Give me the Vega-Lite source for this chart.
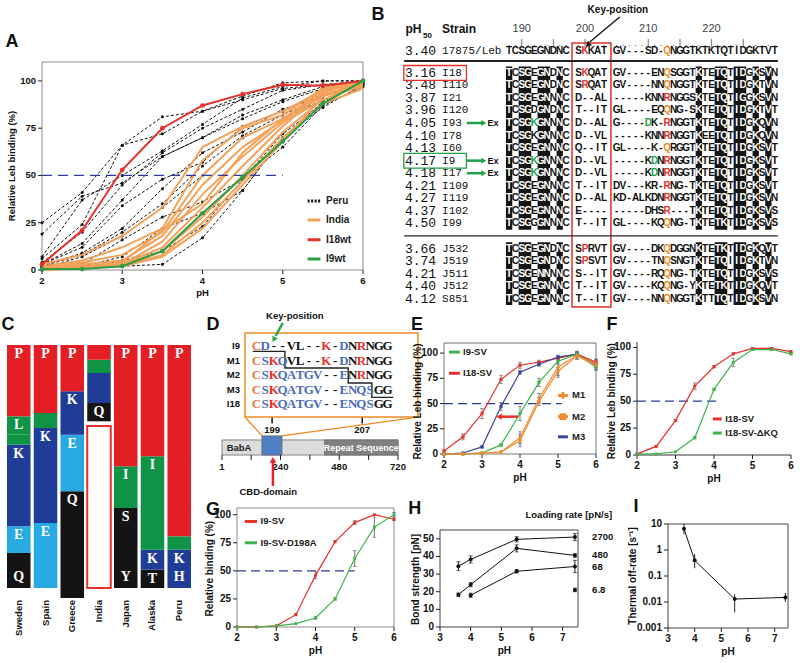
{
"$schema": "https://vega.github.io/schema/vega-lite/v6.json",
"width": 800, "height": 663, "autosize": "none", "padding": 0,
"config": {"view": {"stroke": null}, "font": "Liberation Sans"},
"datasets": {
 "a": [
{"s":"P1","x":2,"y":25},{"s":"P1","x":2.5,"y":41},{"s":"P1","x":3,"y":66},{"s":"P1","x":3.5,"y":81},{"s":"P1","x":4,"y":84},{"s":"P1","x":4.5,"y":92},{"s":"P1","x":5,"y":99},{"s":"P1","x":5.5,"y":100},{"s":"P1","x":6,"y":100},
{"s":"P2","x":2,"y":19},{"s":"P2","x":2.5,"y":39},{"s":"P2","x":3,"y":46},{"s":"P2","x":3.5,"y":60},{"s":"P2","x":4,"y":70},{"s":"P2","x":4.5,"y":82},{"s":"P2","x":5,"y":90},{"s":"P2","x":5.5,"y":97},{"s":"P2","x":6,"y":99},
{"s":"P3","x":2,"y":7},{"s":"P3","x":2.5,"y":37},{"s":"P3","x":3,"y":50},{"s":"P3","x":3.5,"y":63},{"s":"P3","x":4,"y":77},{"s":"P3","x":4.5,"y":91},{"s":"P3","x":5,"y":97},{"s":"P3","x":5.5,"y":100},{"s":"P3","x":6,"y":100},
{"s":"P4","x":2,"y":6},{"s":"P4","x":2.5,"y":24},{"s":"P4","x":3,"y":66},{"s":"P4","x":3.5,"y":72},{"s":"P4","x":4,"y":84},{"s":"P4","x":4.5,"y":90},{"s":"P4","x":5,"y":96},{"s":"P4","x":5.5,"y":98},{"s":"P4","x":6,"y":100},
{"s":"P5","x":2,"y":4},{"s":"P5","x":2.5,"y":20},{"s":"P5","x":3,"y":45},{"s":"P5","x":3.5,"y":62},{"s":"P5","x":4,"y":75},{"s":"P5","x":4.5,"y":85},{"s":"P5","x":5,"y":95},{"s":"P5","x":5.5,"y":98},{"s":"P5","x":6,"y":99},
{"s":"P6","x":2,"y":3},{"s":"P6","x":2.5,"y":14},{"s":"P6","x":3,"y":37},{"s":"P6","x":3.5,"y":60},{"s":"P6","x":4,"y":70},{"s":"P6","x":4.5,"y":80},{"s":"P6","x":5,"y":89},{"s":"P6","x":5.5,"y":96},{"s":"P6","x":6,"y":100},
{"s":"P7","x":2,"y":3},{"s":"P7","x":2.5,"y":12},{"s":"P7","x":3,"y":34},{"s":"P7","x":3.5,"y":48},{"s":"P7","x":4,"y":57},{"s":"P7","x":4.5,"y":76},{"s":"P7","x":5,"y":84},{"s":"P7","x":5.5,"y":93},{"s":"P7","x":6,"y":98},
{"s":"P8","x":2,"y":2},{"s":"P8","x":2.5,"y":9},{"s":"P8","x":3,"y":22},{"s":"P8","x":3.5,"y":43},{"s":"P8","x":4,"y":62},{"s":"P8","x":4.5,"y":73},{"s":"P8","x":5,"y":85},{"s":"P8","x":5.5,"y":92},{"s":"P8","x":6,"y":99},
{"s":"P9","x":2,"y":2},{"s":"P9","x":2.5,"y":8},{"s":"P9","x":3,"y":20},{"s":"P9","x":3.5,"y":35},{"s":"P9","x":4,"y":55},{"s":"P9","x":4.5,"y":71},{"s":"P9","x":5,"y":82},{"s":"P9","x":5.5,"y":92},{"s":"P9","x":6,"y":100},
{"s":"P10","x":2,"y":1},{"s":"P10","x":2.5,"y":7},{"s":"P10","x":3,"y":18},{"s":"P10","x":3.5,"y":33},{"s":"P10","x":4,"y":50},{"s":"P10","x":4.5,"y":70},{"s":"P10","x":5,"y":80},{"s":"P10","x":5.5,"y":90},{"s":"P10","x":6,"y":99},
{"s":"P11","x":2,"y":1},{"s":"P11","x":2.5,"y":3},{"s":"P11","x":3,"y":16},{"s":"P11","x":3.5,"y":28},{"s":"P11","x":4,"y":36},{"s":"P11","x":4.5,"y":48},{"s":"P11","x":5,"y":72},{"s":"P11","x":5.5,"y":88},{"s":"P11","x":6,"y":100},
{"s":"P12","x":2,"y":1},{"s":"P12","x":2.5,"y":2},{"s":"P12","x":3,"y":7},{"s":"P12","x":3.5,"y":22},{"s":"P12","x":4,"y":30},{"s":"P12","x":4.5,"y":42},{"s":"P12","x":5,"y":70},{"s":"P12","x":5.5,"y":86},{"s":"P12","x":6,"y":98},
{"s":"P13","x":2,"y":0},{"s":"P13","x":2.5,"y":1},{"s":"P13","x":3,"y":5},{"s":"P13","x":3.5,"y":10},{"s":"P13","x":4,"y":23},{"s":"P13","x":4.5,"y":48},{"s":"P13","x":5,"y":65},{"s":"P13","x":5.5,"y":87},{"s":"P13","x":6,"y":97},
{"s":"P14","x":2,"y":0},{"s":"P14","x":2.5,"y":1},{"s":"P14","x":3,"y":2},{"s":"P14","x":3.5,"y":3},{"s":"P14","x":4,"y":17},{"s":"P14","x":4.5,"y":42},{"s":"P14","x":5,"y":70},{"s":"P14","x":5.5,"y":89},{"s":"P14","x":6,"y":100},
{"s":"O1","x":2,"y":3},{"s":"O1","x":2.5,"y":8},{"s":"O1","x":3,"y":18},{"s":"O1","x":3.5,"y":33},{"s":"O1","x":4,"y":65},{"s":"O1","x":4.5,"y":76},{"s":"O1","x":5,"y":84},{"s":"O1","x":5.5,"y":95},{"s":"O1","x":6,"y":100},
{"s":"O2","x":2,"y":2},{"s":"O2","x":2.5,"y":5},{"s":"O2","x":3,"y":12},{"s":"O2","x":3.5,"y":22},{"s":"O2","x":4,"y":58},{"s":"O2","x":4.5,"y":75},{"s":"O2","x":5,"y":82},{"s":"O2","x":5.5,"y":96},{"s":"O2","x":6,"y":100},
{"s":"O3","x":2,"y":1},{"s":"O3","x":2.5,"y":4},{"s":"O3","x":3,"y":8},{"s":"O3","x":3.5,"y":20},{"s":"O3","x":4,"y":50},{"s":"O3","x":4.5,"y":70},{"s":"O3","x":5,"y":80},{"s":"O3","x":5.5,"y":93},{"s":"O3","x":6,"y":98},
{"s":"O4","x":2,"y":1},{"s":"O4","x":2.5,"y":3},{"s":"O4","x":3,"y":5},{"s":"O4","x":3.5,"y":18},{"s":"O4","x":4,"y":45},{"s":"O4","x":4.5,"y":65},{"s":"O4","x":5,"y":79},{"s":"O4","x":5.5,"y":92},{"s":"O4","x":6,"y":97},
{"s":"O5","x":2,"y":1},{"s":"O5","x":2.5,"y":2},{"s":"O5","x":3,"y":3},{"s":"O5","x":3.5,"y":15},{"s":"O5","x":4,"y":40},{"s":"O5","x":4.5,"y":60},{"s":"O5","x":5,"y":78},{"s":"O5","x":5.5,"y":90},{"s":"O5","x":6,"y":99},
{"s":"O6","x":2,"y":0},{"s":"O6","x":2.5,"y":2},{"s":"O6","x":3,"y":3},{"s":"O6","x":3.5,"y":12},{"s":"O6","x":4,"y":33},{"s":"O6","x":4.5,"y":55},{"s":"O6","x":5,"y":76},{"s":"O6","x":5.5,"y":94},{"s":"O6","x":6,"y":100},
{"s":"O7","x":2,"y":0},{"s":"O7","x":2.5,"y":1},{"s":"O7","x":3,"y":3},{"s":"O7","x":3.5,"y":10},{"s":"O7","x":4,"y":28},{"s":"O7","x":4.5,"y":50},{"s":"O7","x":5,"y":73},{"s":"O7","x":5.5,"y":90},{"s":"O7","x":6,"y":98},
{"s":"O8","x":2,"y":0},{"s":"O8","x":2.5,"y":1},{"s":"O8","x":3,"y":2},{"s":"O8","x":3.5,"y":8},{"s":"O8","x":4,"y":25},{"s":"O8","x":4.5,"y":47},{"s":"O8","x":5,"y":70},{"s":"O8","x":5.5,"y":88},{"s":"O8","x":6,"y":96},
{"s":"O9","x":2,"y":0},{"s":"O9","x":2.5,"y":1},{"s":"O9","x":3,"y":2},{"s":"O9","x":3.5,"y":7},{"s":"O9","x":4,"y":22},{"s":"O9","x":4.5,"y":45},{"s":"O9","x":5,"y":68},{"s":"O9","x":5.5,"y":92},{"s":"O9","x":6,"y":100},
{"s":"O10","x":2,"y":1},{"s":"O10","x":2.5,"y":2},{"s":"O10","x":3,"y":4},{"s":"O10","x":3.5,"y":21},{"s":"O10","x":4,"y":35},{"s":"O10","x":4.5,"y":62},{"s":"O10","x":5,"y":80},{"s":"O10","x":5.5,"y":95},{"s":"O10","x":6,"y":99},
{"s":"I18","x":2,"y":3},{"s":"I18","x":2.5,"y":21},{"s":"I18","x":3,"y":53},{"s":"I18","x":3.5,"y":75},{"s":"I18","x":4,"y":87},{"s":"I18","x":4.5,"y":93},{"s":"I18","x":5,"y":98},{"s":"I18","x":5.5,"y":97.5},{"s":"I18","x":6,"y":100},
{"s":"I9","x":2,"y":0.5},{"s":"I9","x":2.5,"y":0.5},{"s":"I9","x":3,"y":2},{"s":"I9","x":3.5,"y":10},{"s":"I9","x":4,"y":30},{"s":"I9","x":4.5,"y":49},{"s":"I9","x":5,"y":68},{"s":"I9","x":5.5,"y":88},{"s":"I9","x":6,"y":100}
 ],
 "e": [
{"s":"I18-SV","x":2,"y":3,"e":0},{"s":"I18-SV","x":2.5,"y":17,"e":3},{"s":"I18-SV","x":3,"y":40,"e":5},{"s":"I18-SV","x":3.5,"y":74,"e":4},{"s":"I18-SV","x":4,"y":88,"e":3},{"s":"I18-SV","x":4.5,"y":91,"e":2},{"s":"I18-SV","x":5,"y":95,"e":2},{"s":"I18-SV","x":5.5,"y":99,"e":2},{"s":"I18-SV","x":6,"y":91,"e":3},
{"s":"M3","x":2,"y":0,"e":0},{"s":"M3","x":2.5,"y":1,"e":0},{"s":"M3","x":3,"y":7,"e":1},{"s":"M3","x":3.5,"y":47,"e":4},{"s":"M3","x":4,"y":81,"e":2},{"s":"M3","x":4.5,"y":89,"e":2},{"s":"M3","x":5,"y":96,"e":2},{"s":"M3","x":5.5,"y":99,"e":2},{"s":"M3","x":6,"y":89,"e":3},
{"s":"I9-SV","x":2,"y":0,"e":0},{"s":"I9-SV","x":2.5,"y":0,"e":0},{"s":"I9-SV","x":3,"y":1,"e":0},{"s":"I9-SV","x":3.5,"y":9,"e":1},{"s":"I9-SV","x":4,"y":40,"e":7},{"s":"I9-SV","x":4.5,"y":71,"e":4},{"s":"I9-SV","x":5,"y":92,"e":3},{"s":"I9-SV","x":5.5,"y":99,"e":2},{"s":"I9-SV","x":6,"y":86,"e":3},
{"s":"M1","x":2,"y":0,"e":0},{"s":"M1","x":2.5,"y":0,"e":0},{"s":"M1","x":3,"y":1,"e":0},{"s":"M1","x":3.5,"y":2,"e":0},{"s":"M1","x":4,"y":16,"e":6},{"s":"M1","x":4.5,"y":55,"e":5},{"s":"M1","x":5,"y":86,"e":10},{"s":"M1","x":5.5,"y":98,"e":4},{"s":"M1","x":6,"y":90,"e":4},
{"s":"M2","x":2,"y":0,"e":0},{"s":"M2","x":2.5,"y":0,"e":0},{"s":"M2","x":3,"y":1,"e":0},{"s":"M2","x":3.5,"y":2,"e":0},{"s":"M2","x":4,"y":13,"e":6},{"s":"M2","x":4.5,"y":52,"e":4},{"s":"M2","x":5,"y":82,"e":4},{"s":"M2","x":5.5,"y":97,"e":3},{"s":"M2","x":6,"y":88,"e":4}
 ],
 "f": [
{"s":"I18-SV","x":2,"y":1,"e":0},{"s":"I18-SV","x":2.5,"y":8,"e":1},{"s":"I18-SV","x":3,"y":32,"e":1},{"s":"I18-SV","x":3.5,"y":64,"e":3},{"s":"I18-SV","x":4,"y":82,"e":1},{"s":"I18-SV","x":4.5,"y":94,"e":1},{"s":"I18-SV","x":5,"y":99,"e":1},{"s":"I18-SV","x":5.5,"y":99,"e":1},{"s":"I18-SV","x":6,"y":96,"e":1},
{"s":"I18-SV-ΔKQ","x":2,"y":1,"e":0},{"s":"I18-SV-ΔKQ","x":2.5,"y":1,"e":0},{"s":"I18-SV-ΔKQ","x":3,"y":3,"e":0},{"s":"I18-SV-ΔKQ","x":3.5,"y":16,"e":1},{"s":"I18-SV-ΔKQ","x":4,"y":61,"e":1},{"s":"I18-SV-ΔKQ","x":4.5,"y":86,"e":4},{"s":"I18-SV-ΔKQ","x":5,"y":98,"e":1},{"s":"I18-SV-ΔKQ","x":5.5,"y":98,"e":1},{"s":"I18-SV-ΔKQ","x":6,"y":94,"e":1}
 ],
 "g": [
{"s":"I9-SV","x":2,"y":0,"e":0},{"s":"I9-SV","x":2.5,"y":0,"e":0},{"s":"I9-SV","x":3,"y":1,"e":0},{"s":"I9-SV","x":3.5,"y":11,"e":1},{"s":"I9-SV","x":4,"y":46,"e":3},{"s":"I9-SV","x":4.5,"y":76,"e":1},{"s":"I9-SV","x":5,"y":93,"e":2},{"s":"I9-SV","x":5.5,"y":100,"e":0},{"s":"I9-SV","x":6,"y":96,"e":1},
{"s":"I9-SV-D198A","x":2,"y":0,"e":0},{"s":"I9-SV-D198A","x":2.5,"y":0,"e":0},{"s":"I9-SV-D198A","x":3,"y":1,"e":0},{"s":"I9-SV-D198A","x":3.5,"y":3,"e":0},{"s":"I9-SV-D198A","x":4,"y":8,"e":1},{"s":"I9-SV-D198A","x":4.5,"y":25,"e":1},{"s":"I9-SV-D198A","x":5,"y":61,"e":7},{"s":"I9-SV-D198A","x":5.5,"y":89,"e":9},{"s":"I9-SV-D198A","x":6,"y":100,"e":2}
 ],
 "h": [
{"s":"2700","x":3.6,"y":34.5,"e":2.5},{"s":"2700","x":4,"y":38.3,"e":2},{"s":"2700","x":5.5,"y":49.7,"e":1.5},{"s":"2700","x":7.4,"y":51,"e":2},
{"s":"480","x":3.6,"y":18.3,"e":1},{"s":"480","x":4,"y":24,"e":1.2},{"s":"480","x":5.5,"y":44.6,"e":2},{"s":"480","x":7.4,"y":40.6,"e":1},
{"s":"68","x":4,"y":18,"e":1.2},{"s":"68","x":5.5,"y":31.6,"e":1},{"s":"68","x":7.4,"y":34.3,"e":3.5},
{"s":"6.8","x":7.4,"y":21,"e":1}
 ],
 "i": [
{"x":3.6,"y":6.5,"lo":4,"hi":10},{"x":4,"y":0.4,"lo":0.2,"hi":0.7},{"x":5.5,"y":0.013,"lo":0.004,"hi":0.02},{"x":7.4,"y":0.015,"lo":0.01,"hi":0.022}
 ],
 "seq": [
{"r":0.3,"ph":"3.40","st":"17875/Leb","c":["T","C","S","G","E","G","N","D","N","C"," ","S"," ","K","A","T"," ","G","V","-","-","-","S","D","-"," ","N","G","G","T","K","T","K","T","Q","T","I","D","G","K","T","V","T"]},
{"r":2,"ph":"3.16","st":"I18","c":["T","C","S","G","E","G","N","D","N","C"," ","S"," ","Q","A","T"," ","G","V","-","-","-","-","E","N"," ","S","G","G","T","K","T","E","T","Q","T","I","D","G","K","S","V","N"]},
{"r":3,"ph":"3.48","st":"I110","c":["T","C","S","G","E","G","N","D","N","C"," ","S"," ","Q","A","T"," ","G","V","-","-","-","-","N","N"," ","N","G","G","T","K","T","E","T","Q","T","I","D","G","K","T","V","N"]},
{"r":4,"ph":"3.87","st":"I21","c":["T","C","S","G","E","G","N","N","N","C"," ","D","-","-","A","L"," ","-","-","-","-","-","K","N","N"," ","N","G","G","S","K","T","E","T","Q","T","I","G","G","K","S","V","N"]},
{"r":5,"ph":"3.96","st":"I120","c":["T","C","S","G","D","G","N","D","N","C"," ","T","-","-","I","T"," ","G","L","-","-","-","-","E","Q"," ","N","G","-","S","K","T","E","T","Q","T","I","D","G","K","T","V","T"]},
{"r":6,"ph":"4.05","st":"I93","c":["T","C","S","G"," ","G","N","N","N","C"," ","D","-","-","A","L"," ","G","-","-","-","-"," ","K","-"," ","N","G","G","T","K","T","E","T","Q","T","I","D","G","K","Q","V","N"]},
{"r":7,"ph":"4.10","st":"I78","c":["T","C","S","G","K","G","N","N","N","C"," ","D","-","-","V","L"," ","-","-","-","-","-","K","N","N"," ","N","G","G","T","K","E","E","T","Q","T","I","D","G","K","Q","V","N"]},
{"r":8,"ph":"4.13","st":"I60","c":["T","C","S","G","E","G","N","N","N","C"," ","Q","-","-","I","T"," ","G","L","-","-","-","-","K","-"," ","R","G","G","T","K","T","E","T","Q","T","I","D","G","K","S","V","T"]},
{"r":9,"ph":"4.17","st":"I9","c":["T","C","S","G"," ","G","N","N","N","C"," ","D","-","-","V","L"," ","-","-","-","-","-","K"," ","N"," ","N","G","G","T","K","T","E","T","Q","T","I","D","G","K","S","V","T"]},
{"r":10,"ph":"4.18","st":"I17","c":["T","C","S","G"," ","G","N","N","N","C"," ","D","-","-","V","L"," ","-","-","-","-","-","K"," ","N"," ","N","G","G","T","K","T","E","T","Q","T","I","D","G","K","S","V","T"]},
{"r":11,"ph":"4.21","st":"I109","c":["T","C","S","G","E","G","N","N","N","C"," ","T","-","-","I","T"," ","D","V","-","-","-","K","R","-"," ","N","G","-","T","K","T","E","T","Q","T","I","D","G","K","S","V","T"]},
{"r":12,"ph":"4.27","st":"I119","c":["T","C","S","G","E","G","N","N","N","C"," ","D","-","-","A","L"," ","K","D","-","A","L","K","D","N"," ","N","G","G","T","K","T","E","T","Q","T","I","D","G","K","S","V","N"]},
{"r":13,"ph":"4.37","st":"I102","c":["T","C","S","G","E","G","N","N","N","C"," ","E","-","-","-","-"," ","-","-","-","-","-","D","H","S"," ","-","-","-","T","K","T","E","T","Q","T","I","D","G","K","S","V","S"]},
{"r":14,"ph":"4.50","st":"I99","c":["T","C","S","G","G","G","N","N","N","C"," ","T","-","-","I","T"," ","G","L","-","-","-","-","K","Q"," ","N","G","-","T","K","T","E","T","K","T","I","D","G","K","S","V","S"]},
{"r":16,"ph":"3.66","st":"J532","c":["T","C","S","G","E","G","N","D","N","C"," ","S"," ","R","V","T"," ","G","V","-","-","-","-","D","K"," ","D","G","G","N","K","T","E","T","K","T","I","D","G","K","Q","V","T"]},
{"r":17,"ph":"3.74","st":"J519","c":["T","C","S","G","E","G","N","D","N","C"," ","S"," ","S","V","T"," ","G","V","-","-","-","-","T","N"," ","S","N","G","T","K","T","E","T","Q","I","I","D","G","K","T","V","N"]},
{"r":18,"ph":"4.21","st":"J511","c":["T","C","S","G","E","N","N","N","N","C"," ","S","-","-","I","T"," ","G","V","-","-","-","-","R","Q"," ","N","G","-","T","K","T","E","T","Q","T","I","D","G","K","S","V","S"]},
{"r":19,"ph":"4.40","st":"J512","c":["T","C","S","G","E","G","N","N","N","C"," ","T","-","-","I","T"," ","G","V","-","-","-","-","K","Q"," ","N","G","-","Y","K","T","E","T","K","T","I","D","G","K","Q","V","T"]},
{"r":20,"ph":"4.12","st":"S851","c":["T","C","S","G","E","G","N","N","N","C"," ","T","-","-","I","T"," ","G","V","-","-","-","-","N","N"," ","N","G","G","T","K","T","T","T","Q","T","I","D","G","K","S","V","N"]}
 ],
 "hl": [
{"r":0.3,"col":13,"ch":"K","k":"red"},{"r":0.3,"col":26,"ch":"Q","k":"orange"},
{"r":2,"col":13,"ch":"K","k":"red"},{"r":2,"col":26,"ch":"Q","k":"orange"},
{"r":3,"col":13,"ch":"R","k":"red"},{"r":3,"col":26,"ch":"Q","k":"orange"},
{"r":4,"col":26,"ch":"R","k":"red"},
{"r":5,"col":26,"ch":"Q","k":"orange"},
{"r":6,"col":5,"ch":"K","k":"green"},{"r":6,"col":23,"ch":"D","k":"green"},{"r":6,"col":26,"ch":"R","k":"red"},
{"r":7,"col":26,"ch":"R","k":"red"},
{"r":8,"col":26,"ch":"Q","k":"orange"},
{"r":9,"col":5,"ch":"K","k":"green"},{"r":9,"col":24,"ch":"D","k":"green"},{"r":9,"col":26,"ch":"R","k":"red"},
{"r":10,"col":5,"ch":"K","k":"green"},{"r":10,"col":24,"ch":"D","k":"green"},{"r":10,"col":26,"ch":"R","k":"red"},
{"r":11,"col":26,"ch":"R","k":"red"},
{"r":12,"col":26,"ch":"R","k":"red"},
{"r":13,"col":26,"ch":"R","k":"red"},
{"r":14,"col":26,"ch":"Q","k":"orange"},
{"r":16,"col":13,"ch":"P","k":"red"},{"r":16,"col":26,"ch":"Q","k":"orange"},
{"r":17,"col":13,"ch":"P","k":"red"},{"r":17,"col":26,"ch":"Q","k":"orange"},
{"r":18,"col":26,"ch":"Q","k":"orange"},
{"r":19,"col":26,"ch":"Q","k":"orange"},
{"r":20,"col":26,"ch":"Q","k":"orange"}
 ],
 "shade": [
{"c0":0.5,"c1":1.5},{"c0":2.5,"c1":4.5},{"c0":5.5,"c1":7.5},{"c0":8.5,"c1":9.5},{"c0":30.5,"c1":31.5},{"c0":33.5,"c1":35.5},{"c0":36.5,"c1":38.5},{"c0":39.5,"c1":40.5},{"c0":41.5,"c1":42.5}
 ],
 "shadecols": [
{"col":1},{"col":3},{"col":4},{"col":6},{"col":7},{"col":9},{"col":31},{"col":34},{"col":35},{"col":37},{"col":38},{"col":40},{"col":42}
 ],
 "logo": [
{"ct":"Sweden","aa":"Q","lo":0,"hi":20},{"ct":"Sweden","aa":"T","lo":20,"hi":35},{"ct":"Sweden","aa":"E","lo":35,"hi":61.7},{"ct":"Sweden","aa":"K","lo":61.7,"hi":143.3},{"ct":"Sweden","aa":"A","lo":143.3,"hi":153.3},{"ct":"Sweden","aa":"L","lo":153.3,"hi":171.7},{"ct":"Sweden","aa":"P","lo":171.7,"hi":243},
{"ct":"Spain","aa":"E","lo":0,"hi":65},{"ct":"Spain","aa":"K","lo":65,"hi":160},{"ct":"Spain","aa":"L","lo":160,"hi":175},{"ct":"Spain","aa":"P","lo":175,"hi":243},
{"ct":"Greece","aa":"Q","lo":-10,"hi":96.7},{"ct":"Greece","aa":"E","lo":96.7,"hi":153.3},{"ct":"Greece","aa":"K","lo":153.3,"hi":196.7},{"ct":"Greece","aa":"P","lo":196.7,"hi":243},
{"ct":"India","aa":"Q","lo":166.7,"hi":185},{"ct":"India","aa":"R","lo":185,"hi":200},{"ct":"India","aa":"K","lo":200,"hi":215},{"ct":"India","aa":"V","lo":215,"hi":228.3},{"ct":"India","aa":"P","lo":228.3,"hi":243},
{"ct":"Japan","aa":"Y","lo":0,"hi":20},{"ct":"Japan","aa":"S","lo":20,"hi":80},{"ct":"Japan","aa":"I","lo":80,"hi":121.7},{"ct":"Japan","aa":"P","lo":121.7,"hi":243},
{"ct":"Alaska","aa":"T","lo":0,"hi":18.3},{"ct":"Alaska","aa":"K","lo":18.3,"hi":38.3},{"ct":"Alaska","aa":"I","lo":38.3,"hi":131.7},{"ct":"Alaska","aa":"P","lo":131.7,"hi":243},
{"ct":"Peru","aa":"H","lo":0,"hi":20},{"ct":"Peru","aa":"K","lo":20,"hi":38.3},{"ct":"Peru","aa":"L","lo":38.3,"hi":51.7},{"ct":"Peru","aa":"P","lo":51.7,"hi":243}
 ],
 "dal": [
{"r":1,"lab":"I9","c":["C","D","-","-","V","L","-","-","K","-","D","N","R","N","G","G"],"k":["o","b","k","k","k","k","k","k","r","k","b","k","r","k","k","k"]},
{"r":2,"lab":"M1","c":["C","S","K","Q","V","L","-","-","K","-","D","N","R","N","G","G"],"k":["o","b","r","b","k","k","k","k","r","k","b","k","r","k","k","k"]},
{"r":3,"lab":"M2","c":["C","S","K","Q","A","T","G","V","-","-","E","N","R","N","G","G"],"k":["o","b","r","b","b","b","b","b","k","k","b","k","r","k","k","k"]},
{"r":4,"lab":"M3","c":["C","S","K","Q","A","T","G","V","-","-","E","N","Q","S","G","G"],"k":["o","b","r","b","b","b","b","b","k","k","b","b","b","b","k","k"]},
{"r":5,"lab":"I18","c":["C","S","K","Q","A","T","G","V","-","-","E","N","Q","S","G","G"],"k":["o","b","r","b","b","b","b","b","k","k","b","b","b","b","k","k"]}
 ],
 "dbar": [
{"s":"body","a":1,"b":720,"y0":7.48,"y1":8.52},{"s":"rep","a":420,"b":720,"y0":7.48,"y1":8.52},{"s":"cbd","a":164,"b":246,"y0":7.2,"y1":8.52}
 ],
 "ticks26": [{"v":2,"t":"2"},{"v":3,"t":"3"},{"v":4,"t":"4"},{"v":5,"t":"5"},{"v":6,"t":"6"}],
 "ticks37": [{"v":3,"t":"3"},{"v":4,"t":"4"},{"v":5,"t":"5"},{"v":6,"t":"6"},{"v":7,"t":"7"}],
 "ticks100": [{"v":0,"t":"0"},{"v":25,"t":"25"},{"v":50,"t":"50"},{"v":75,"t":"75"},{"v":100,"t":"100"}],
 "ticks50": [{"v":0,"t":"0"},{"v":10,"t":"10"},{"v":20,"t":"20"},{"v":30,"t":"30"},{"v":40,"t":"40"},{"v":50,"t":"50"}],
 "tickslog": [{"v":0.001,"t":"0.001"},{"v":0.01,"t":"0.01"},{"v":0.1,"t":"0.1"},{"v":1,"t":"1"},{"v":10,"t":"10"}]
},
"resolve": {
 "scale": {"x": "independent", "y": "independent", "color": "independent", "shape": "independent", "strokeDash": "independent", "size": "independent"},
 "axis": {"x": "independent", "y": "independent"},
 "legend": {"color": "independent", "shape": "independent", "strokeDash": "independent", "size": "independent"}
},
"layer": [
 {
  "layer": [
   {"data": {"values": [{}]}, "mark": {"type": "rect", "filled": false, "color": "#8c8c8c", "strokeWidth": 1}, "encoding": {"x": {"datum": 2, "scale": {"domain": [2, 6], "range": [42, 363], "nice": false, "zero": false}, "axis": null}, "x2": {"datum": 6}, "y": {"datum": 0, "scale": {"domain": [0, 110], "range": [270, 62], "nice": false, "zero": false}, "axis": null}, "y2": {"datum": 110}}},
   {"data": {"name": "ticks26"}, "mark": {"type": "rule", "color": "#222"}, "encoding": {"x": {"field": "v", "type": "quantitative", "scale": {"domain": [2, 6], "range": [42, 363], "nice": false, "zero": false}, "axis": null}, "y": {"datum": 0, "scale": {"domain": [0, 110], "range": [270, 62], "nice": false, "zero": false}, "axis": null}, "y2": {"datum": -2.1}}},
   {"data": {"name": "ticks26"}, "mark": {"type": "text", "baseline": "top", "dy": 6, "fontSize": 9.5, "fontWeight": "bold", "color": "#111"}, "encoding": {"x": {"field": "v", "type": "quantitative", "scale": {"domain": [2, 6], "range": [42, 363], "nice": false, "zero": false}, "axis": null}, "y": {"datum": 0, "scale": {"domain": [0, 110], "range": [270, 62], "nice": false, "zero": false}, "axis": null}, "text": {"field": "t"}}},
   {"data": {"name": "ticks100"}, "mark": {"type": "rule", "color": "#222"}, "encoding": {"y": {"field": "v", "type": "quantitative", "scale": {"domain": [0, 110], "range": [270, 62], "nice": false, "zero": false}, "axis": null}, "x": {"datum": 2, "scale": {"domain": [2, 6], "range": [42, 363], "nice": false, "zero": false}, "axis": null}, "x2": {"datum": 1.95}}},
   {"data": {"name": "ticks100"}, "mark": {"type": "text", "align": "right", "dx": -6, "fontSize": 9.5, "fontWeight": "bold", "color": "#111"}, "encoding": {"y": {"field": "v", "type": "quantitative", "scale": {"domain": [0, 110], "range": [270, 62], "nice": false, "zero": false}, "axis": null}, "x": {"datum": 2, "scale": {"domain": [2, 6], "range": [42, 363], "nice": false, "zero": false}, "axis": null}, "text": {"field": "t"}}},
   {"data": {"values": [{"t": "pH"}]}, "mark": {"type": "text", "baseline": "top", "dy": 18, "fontSize": 9.5, "fontWeight": "bold", "color": "#111"}, "encoding": {"x": {"datum": 4, "scale": {"domain": [2, 6], "range": [42, 363], "nice": false, "zero": false}, "axis": null}, "y": {"datum": 0, "scale": {"domain": [0, 110], "range": [270, 62], "nice": false, "zero": false}, "axis": null}, "text": {"field": "t"}}},
   {"data": {"values": [{"t": "Relative Leb binding (%)"}]}, "mark": {"type": "text", "angle": 270, "fontSize": 9.5, "fontWeight": "bold", "color": "#111"}, "encoding": {"x": {"datum": 1.626, "scale": {"domain": [2, 6], "range": [42, 363], "nice": false, "zero": false}, "axis": null}, "y": {"datum": 55, "scale": {"domain": [0, 110], "range": [270, 62], "nice": false, "zero": false}, "axis": null}, "text": {"field": "t"}}},
   {"data": {"name": "a"}, "transform": [{"filter": "indexof(datum.s,'P')==0"}], "mark": {"type": "line", "color": "#111", "strokeWidth": 1, "strokeDash": [3, 2]}, "encoding": {"x": {"field": "x", "type": "quantitative", "scale": {"domain": [2, 6], "range": [42, 363], "nice": false, "zero": false}, "axis": null}, "y": {"field": "y", "type": "quantitative", "scale": {"domain": [0, 110], "range": [270, 62], "nice": false, "zero": false}, "axis": null}, "detail": {"field": "s"}}},
   {"data": {"name": "a"}, "transform": [{"filter": "indexof(datum.s,'P')==0"}], "mark": {"type": "circle", "color": "#111", "size": 9, "opacity": 1}, "encoding": {"x": {"field": "x", "type": "quantitative", "scale": {"domain": [2, 6], "range": [42, 363], "nice": false, "zero": false}, "axis": null}, "y": {"field": "y", "type": "quantitative", "scale": {"domain": [0, 110], "range": [270, 62], "nice": false, "zero": false}, "axis": null}}},
   {"data": {"name": "a"}, "transform": [{"filter": "indexof(datum.s,'O')==0"}], "mark": {"type": "line", "color": "#f4a25a", "strokeWidth": 2}, "encoding": {"x": {"field": "x", "type": "quantitative", "scale": {"domain": [2, 6], "range": [42, 363], "nice": false, "zero": false}, "axis": null}, "y": {"field": "y", "type": "quantitative", "scale": {"domain": [0, 110], "range": [270, 62], "nice": false, "zero": false}, "axis": null}, "detail": {"field": "s"}}},
   {"data": {"values": [{}]}, "mark": {"type": "rule", "color": "#2b3a9c", "strokeWidth": 1.3, "strokeDash": [10, 6]}, "encoding": {"x": {"datum": 2, "scale": {"domain": [2, 6], "range": [42, 363], "nice": false, "zero": false}, "axis": null}, "x2": {"datum": 5}, "y": {"datum": 50, "scale": {"domain": [0, 110], "range": [270, 62], "nice": false, "zero": false}, "axis": null}}},
   {"data": {"name": "a"}, "transform": [{"filter": "datum.s=='I18'"}], "mark": {"type": "line", "color": "#e8302a", "strokeWidth": 2, "point": {"filled": true, "size": 22, "color": "#e8302a"}}, "encoding": {"x": {"field": "x", "type": "quantitative", "scale": {"domain": [2, 6], "range": [42, 363], "nice": false, "zero": false}, "axis": null}, "y": {"field": "y", "type": "quantitative", "scale": {"domain": [0, 110], "range": [270, 62], "nice": false, "zero": false}, "axis": null}}},
   {"data": {"name": "a"}, "transform": [{"filter": "datum.s=='I9'"}], "mark": {"type": "line", "color": "#2e9e45", "strokeWidth": 2, "point": {"filled": true, "size": 22, "color": "#2e9e45"}}, "encoding": {"x": {"field": "x", "type": "quantitative", "scale": {"domain": [2, 6], "range": [42, 363], "nice": false, "zero": false}, "axis": null}, "y": {"field": "y", "type": "quantitative", "scale": {"domain": [0, 110], "range": [270, 62], "nice": false, "zero": false}, "axis": null}}},
   {"data": {"values": [{"g": "Peru", "y": 36.5}, {"g": "India", "y": 26.5}, {"g": "I18wt", "y": 16}, {"g": "I9wt", "y": 5.8}]}, "mark": {"type": "rule", "strokeWidth": 3}, "encoding": {"x": {"datum": 5.31, "scale": {"domain": [2, 6], "range": [42, 363], "nice": false, "zero": false}, "axis": null}, "x2": {"datum": 5.47}, "y": {"field": "y", "type": "quantitative", "scale": {"domain": [0, 110], "range": [270, 62], "nice": false, "zero": false}, "axis": null}, "color": {"field": "g", "type": "nominal", "scale": {"domain": ["Peru", "India", "I18wt", "I9wt"], "range": ["#111", "#f4a25a", "#e8302a", "#2e9e45"]}, "legend": null}, "strokeDash": {"field": "g", "type": "nominal", "scale": {"domain": ["Peru", "India", "I18wt", "I9wt"], "range": [[2, 1.5], [1, 0], [1, 0], [1, 0]]}, "legend": null}}},
   {"data": {"values": [{"g": "Peru", "y": 36.5}, {"g": "India", "y": 26.5}, {"g": "I18wt", "y": 16}, {"g": "I9wt", "y": 5.8}]}, "mark": {"type": "text", "align": "left", "fontSize": 10, "fontWeight": "bold", "color": "#222"}, "encoding": {"x": {"datum": 5.54, "scale": {"domain": [2, 6], "range": [42, 363], "nice": false, "zero": false}, "axis": null}, "y": {"field": "y", "type": "quantitative", "scale": {"domain": [0, 110], "range": [270, 62], "nice": false, "zero": false}, "axis": null}, "text": {"field": "g"}}},
   {"data": {"values": [{"t": "A", "x": 1.626, "y": 120.6}, {"t": "C", "x": 1.576, "y": -29}]}, "mark": {"type": "text", "fontSize": 18, "fontWeight": "bold", "color": "#111"}, "encoding": {"x": {"field": "x", "type": "quantitative", "scale": {"domain": [2, 6], "range": [42, 363], "nice": false, "zero": false}, "axis": null}, "y": {"field": "y", "type": "quantitative", "scale": {"domain": [0, 110], "range": [270, 62], "nice": false, "zero": false}, "axis": null}, "text": {"field": "t"}}}
  ]
 },
 {
  "layer": [
   {"data": {"name": "shade"}, "mark": {"type": "rect", "color": "#161616"}, "encoding": {"x": {"field": "c0", "type": "quantitative", "scale": {"domain": [-21, 47], "range": [370, 800], "nice": false, "zero": false}, "axis": null}, "x2": {"field": "c1"}, "y": {"datum": 1.5, "scale": {"domain": [-3.8, 20.9], "range": [0, 310], "nice": false, "zero": false}, "axis": null}, "y2": {"datum": 14.5}}},
   {"data": {"name": "shade"}, "mark": {"type": "rect", "color": "#161616"}, "encoding": {"x": {"field": "c0", "type": "quantitative", "scale": {"domain": [-21, 47], "range": [370, 800], "nice": false, "zero": false}, "axis": null}, "x2": {"field": "c1"}, "y": {"datum": 15.5, "scale": {"domain": [-3.8, 20.9], "range": [0, 310], "nice": false, "zero": false}, "axis": null}, "y2": {"datum": 20.5}}},
   {"data": {"values": [{}]}, "mark": {"type": "rect", "filled": false, "color": "#e0302a", "strokeWidth": 1.5}, "encoding": {"x": {"datum": 10.95, "scale": {"domain": [-21, 47], "range": [370, 800], "nice": false, "zero": false}, "axis": null}, "x2": {"datum": 17.1}, "y": {"datum": -0.37, "scale": {"domain": [-3.8, 20.9], "range": [0, 310], "nice": false, "zero": false}, "axis": null}, "y2": {"datum": 20.66}}},
   {"data": {"values": [{}]}, "mark": {"type": "rule", "color": "#222", "strokeWidth": 2}, "encoding": {"x": {"datum": -15.6, "scale": {"domain": [-21, 47], "range": [370, 800], "nice": false, "zero": false}, "axis": null}, "x2": {"datum": 43.5}, "y": {"datum": 1.06, "scale": {"domain": [-3.8, 20.9], "range": [0, 310], "nice": false, "zero": false}, "axis": null}}},
   {"data": {"values": [{}]}, "mark": {"type": "rule", "color": "#222", "strokeWidth": 1.2}, "encoding": {"x": {"datum": -15.6, "scale": {"domain": [-21, 47], "range": [370, 800], "nice": false, "zero": false}, "axis": null}, "x2": {"datum": 43.5}, "y": {"datum": 15, "scale": {"domain": [-3.8, 20.9], "range": [0, 310], "nice": false, "zero": false}, "axis": null}}},
   {"data": {"name": "seq"}, "transform": [{"flatten": ["c"], "as": ["ch"]}, {"window": [{"op": "row_number", "as": "col"}], "groupby": ["r"]}, {"lookup": "col", "from": {"data": {"name": "shadecols"}, "key": "col"}, "as": "sh"}],
    "mark": {"type": "text", "fontSize": 10, "fontWeight": "bold", "font": "Liberation Sans Narrow, Liberation Sans, sans-serif"},
    "encoding": {"x": {"field": "col", "type": "quantitative", "scale": {"domain": [-21, 47], "range": [370, 800], "nice": false, "zero": false}, "axis": null}, "y": {"field": "r", "type": "quantitative", "scale": {"domain": [-3.8, 20.9], "range": [0, 310], "nice": false, "zero": false}, "axis": null}, "text": {"field": "ch"}, "color": {"condition": {"test": "datum.sh != null && datum.r > 1", "value": "#ffffff"}, "value": "#111111"}}},
   {"data": {"name": "hl"}, "mark": {"type": "text", "fontSize": 10, "fontWeight": "bold", "font": "Liberation Sans Narrow, Liberation Sans, sans-serif"}, "encoding": {"x": {"field": "col", "type": "quantitative", "scale": {"domain": [-21, 47], "range": [370, 800], "nice": false, "zero": false}, "axis": null}, "y": {"field": "r", "type": "quantitative", "scale": {"domain": [-3.8, 20.9], "range": [0, 310], "nice": false, "zero": false}, "axis": null}, "text": {"field": "ch"}, "color": {"field": "k", "type": "nominal", "scale": {"domain": ["red", "orange", "green"], "range": ["#e8302a", "#f08a24", "#22a04a"]}, "legend": null}}},
   {"data": {"name": "seq"}, "mark": {"type": "text", "align": "left", "fontSize": 13, "font": "Liberation Mono", "color": "#111"}, "encoding": {"x": {"datum": -15.47, "scale": {"domain": [-21, 47], "range": [370, 800], "nice": false, "zero": false}, "axis": null}, "y": {"field": "r", "type": "quantitative", "scale": {"domain": [-3.8, 20.9], "range": [0, 310], "nice": false, "zero": false}, "axis": null}, "text": {"field": "ph"}}},
   {"data": {"name": "seq"}, "mark": {"type": "text", "align": "left", "fontSize": 11, "font": "Liberation Mono", "color": "#111"}, "encoding": {"x": {"datum": -9.61, "scale": {"domain": [-21, 47], "range": [370, 800], "nice": false, "zero": false}, "axis": null}, "y": {"field": "r", "type": "quantitative", "scale": {"domain": [-3.8, 20.9], "range": [0, 310], "nice": false, "zero": false}, "axis": null}, "text": {"field": "st"}}},
   {"data": {"values": [{"t": "pH", "col": -15.4, "r": -1.45}, {"t": "Strain", "col": -9.61, "r": -1.45}]}, "mark": {"type": "text", "align": "left", "fontSize": 12, "fontWeight": "bold", "color": "#111"}, "encoding": {"x": {"field": "col", "type": "quantitative", "scale": {"domain": [-21, 47], "range": [370, 800], "nice": false, "zero": false}, "axis": null}, "y": {"field": "r", "type": "quantitative", "scale": {"domain": [-3.8, 20.9], "range": [0, 310], "nice": false, "zero": false}, "axis": null}, "text": {"field": "t"}}},
   {"data": {"values": [{"t": "50", "col": -12.6, "r": -0.95}]}, "mark": {"type": "text", "align": "left", "fontSize": 8, "fontWeight": "bold", "color": "#111"}, "encoding": {"x": {"field": "col", "type": "quantitative", "scale": {"domain": [-21, 47], "range": [370, 800], "nice": false, "zero": false}, "axis": null}, "y": {"field": "r", "type": "quantitative", "scale": {"domain": [-3.8, 20.9], "range": [0, 310], "nice": false, "zero": false}, "axis": null}, "text": {"field": "t"}}},
   {"data": {"values": [{"rc": [".", ".", "|", ".", ".", ".", ".", "|", ".", ".", " ", ".", "|", ".", ".", ".", " ", ".", ".", ".", ".", ".", "|", ".", ".", ".", ".", "|", ".", ".", ".", ".", "|", ".", ".", ".", ".", "|", ".", ".", ".", ".", "."]}]},
    "transform": [{"flatten": ["rc"], "as": ["ch"]}, {"window": [{"op": "row_number", "as": "col"}]}],
    "mark": {"type": "text", "fontSize": 9, "color": "#444"}, "encoding": {"x": {"field": "col", "type": "quantitative", "scale": {"domain": [-21, 47], "range": [370, 800], "nice": false, "zero": false}, "axis": null}, "y": {"datum": -0.37, "scale": {"domain": [-3.8, 20.9], "range": [0, 310], "nice": false, "zero": false}, "axis": null}, "text": {"field": "ch"}}},
   {"data": {"values": [{"col": 3, "t": "190"}, {"col": 13, "t": "200"}, {"col": 23, "t": "210"}, {"col": 33, "t": "220"}]}, "mark": {"type": "text", "fontSize": 11, "color": "#444"}, "encoding": {"x": {"field": "col", "type": "quantitative", "scale": {"domain": [-21, 47], "range": [370, 800], "nice": false, "zero": false}, "axis": null}, "y": {"datum": -1.49, "scale": {"domain": [-3.8, 20.9], "range": [0, 310], "nice": false, "zero": false}, "axis": null}, "text": {"field": "t"}}},
   {"data": {"values": [{"t": "Key-position"}]}, "mark": {"type": "text", "fontSize": 10, "fontWeight": "bold", "color": "#111"}, "encoding": {"x": {"datum": 18.2, "scale": {"domain": [-21, 47], "range": [370, 800], "nice": false, "zero": false}, "axis": null}, "y": {"datum": -3.0, "scale": {"domain": [-3.8, 20.9], "range": [0, 310], "nice": false, "zero": false}, "axis": null}, "text": {"field": "t"}}},
   {"data": {"values": [{}]}, "mark": {"type": "rule", "color": "#111", "strokeWidth": 1.3}, "encoding": {"x": {"datum": 18.5, "scale": {"domain": [-21, 47], "range": [370, 800], "nice": false, "zero": false}, "axis": null}, "x2": {"datum": 13.75}, "y": {"datum": -2.45, "scale": {"domain": [-3.8, 20.9], "range": [0, 310], "nice": false, "zero": false}, "axis": null}, "y2": {"datum": -0.45}}},
   {"data": {"values": [{}]}, "mark": {"type": "point", "shape": "triangle", "angle": 229, "filled": true, "size": 35, "color": "#111", "opacity": 1}, "encoding": {"x": {"datum": 13.55, "scale": {"domain": [-21, 47], "range": [370, 800], "nice": false, "zero": false}, "axis": null}, "y": {"datum": -0.28, "scale": {"domain": [-3.8, 20.9], "range": [0, 310], "nice": false, "zero": false}, "axis": null}}},
   {"data": {"values": [{"col": -15.65, "c2": -5.75, "r": 1.42, "r2": 2.6, "k": "red"}, {"col": -15.65, "c2": -5.75, "r": 8.42, "r2": 9.6, "k": "green"}]}, "mark": {"type": "rect", "filled": false, "strokeWidth": 1.3}, "encoding": {"x": {"field": "col", "type": "quantitative", "scale": {"domain": [-21, 47], "range": [370, 800], "nice": false, "zero": false}, "axis": null}, "x2": {"field": "c2"}, "y": {"field": "r", "type": "quantitative", "scale": {"domain": [-3.8, 20.9], "range": [0, 310], "nice": false, "zero": false}, "axis": null}, "y2": {"field": "r2"}, "color": {"field": "k", "type": "nominal", "scale": {"domain": ["red", "green"], "range": ["#e0302a", "#22a04a"]}, "legend": null}}},
   {"data": {"values": [{"r": 6}, {"r": 9}, {"r": 10}]}, "mark": {"type": "rule", "color": "#22a04a", "strokeWidth": 2.5}, "encoding": {"x": {"datum": -5.7, "scale": {"domain": [-21, 47], "range": [370, 800], "nice": false, "zero": false}, "axis": null}, "x2": {"datum": -3.3}, "y": {"field": "r", "type": "quantitative", "scale": {"domain": [-3.8, 20.9], "range": [0, 310], "nice": false, "zero": false}, "axis": null}}},
   {"data": {"values": [{"r": 6}, {"r": 9}, {"r": 10}]}, "mark": {"type": "point", "shape": "triangle-right", "filled": true, "size": 35, "color": "#22a04a", "opacity": 1}, "encoding": {"x": {"datum": -3.0, "scale": {"domain": [-21, 47], "range": [370, 800], "nice": false, "zero": false}, "axis": null}, "y": {"field": "r", "type": "quantitative", "scale": {"domain": [-3.8, 20.9], "range": [0, 310], "nice": false, "zero": false}, "axis": null}}},
   {"data": {"values": [{"r": 6, "t": "Ex"}, {"r": 9, "t": "Ex"}, {"r": 10, "t": "Ex"}]}, "mark": {"type": "text", "align": "left", "fontSize": 9, "fontWeight": "bold", "color": "#111"}, "encoding": {"x": {"datum": -2.4, "scale": {"domain": [-21, 47], "range": [370, 800], "nice": false, "zero": false}, "axis": null}, "y": {"field": "r", "type": "quantitative", "scale": {"domain": [-3.8, 20.9], "range": [0, 310], "nice": false, "zero": false}, "axis": null}, "text": {"field": "t"}}},
   {"data": {"values": [{"t": "B"}]}, "mark": {"type": "text", "fontSize": 18, "fontWeight": "bold", "color": "#111"}, "encoding": {"x": {"datum": -19.73, "scale": {"domain": [-21, 47], "range": [370, 800], "nice": false, "zero": false}, "axis": null}, "y": {"datum": -2.6, "scale": {"domain": [-3.8, 20.9], "range": [0, 310], "nice": false, "zero": false}, "axis": null}, "text": {"field": "t"}}}
  ]
 },
 {
  "layer": [
   {"data": {"name": "logo"}, "mark": {"type": "rect"}, "encoding": {"x": {"field": "ct", "type": "nominal", "sort": null, "scale": {"domain": ["Sweden", "Spain", "Greece", "India", "Japan", "Alaska", "Peru"], "range": [7, 191], "paddingInner": 0.12, "paddingOuter": 0}, "axis": null}, "y": {"field": "lo", "type": "quantitative", "scale": {"domain": [0, 243], "range": [588, 345], "nice": false, "zero": false}, "axis": null}, "y2": {"field": "hi"}, "color": {"field": "aa", "type": "nominal", "scale": {"domain": ["P", "L", "A", "I", "V", "K", "R", "H", "E", "Q", "T", "S", "Y"], "range": ["#e31e24", "#0f9447", "#0f9447", "#0f9447", "#0f9447", "#1f3d96", "#1f3d96", "#1f3d96", "#27a9e1", "#141414", "#141414", "#141414", "#141414"]}, "legend": null}}},
   {"data": {"name": "logo"}, "transform": [{"filter": "datum.hi - datum.lo > 16"}], "mark": {"type": "text", "baseline": "top", "dy": 2, "color": "#ffffff", "fontSize": 14, "font": "Liberation Serif", "fontWeight": "bold"}, "encoding": {"x": {"field": "ct", "type": "nominal", "sort": null, "scale": {"domain": ["Sweden", "Spain", "Greece", "India", "Japan", "Alaska", "Peru"], "range": [7, 191], "paddingInner": 0.12, "paddingOuter": 0}, "axis": null}, "y": {"field": "hi", "type": "quantitative", "scale": {"domain": [0, 243], "range": [588, 345], "nice": false, "zero": false}, "axis": null}, "text": {"field": "aa"}}},
   {"data": {"values": [{"ct": "India", "lo": 0, "hi": 162}]}, "mark": {"type": "rect", "filled": false, "color": "#e8302a", "strokeWidth": 2}, "encoding": {"x": {"field": "ct", "type": "nominal", "sort": null, "scale": {"domain": ["Sweden", "Spain", "Greece", "India", "Japan", "Alaska", "Peru"], "range": [7, 191], "paddingInner": 0.12, "paddingOuter": 0}, "axis": null}, "y": {"field": "lo", "type": "quantitative", "scale": {"domain": [0, 243], "range": [588, 345], "nice": false, "zero": false}, "axis": null}, "y2": {"field": "hi"}}},
   {"data": {"values": [{"ct": "Sweden", "lo": -12}, {"ct": "Spain", "lo": -12}, {"ct": "Greece", "lo": -12}, {"ct": "India", "lo": -12}, {"ct": "Japan", "lo": -12}, {"ct": "Alaska", "lo": -12}, {"ct": "Peru", "lo": -12}]}, "mark": {"type": "text", "angle": 270, "align": "right", "baseline": "middle", "fontSize": 9.5, "fontWeight": "bold", "color": "#111"}, "encoding": {"x": {"field": "ct", "type": "nominal", "sort": null, "scale": {"domain": ["Sweden", "Spain", "Greece", "India", "Japan", "Alaska", "Peru"], "range": [7, 191], "paddingInner": 0.12, "paddingOuter": 0}, "axis": null}, "y": {"field": "lo", "type": "quantitative", "scale": {"domain": [0, 243], "range": [588, 345], "nice": false, "zero": false}, "axis": null}, "text": {"field": "ct"}}}
  ]
 },
 {
  "layer": [
   {"data": {"values": [{}]}, "mark": {"type": "rect", "filled": false, "color": "#f08a24", "strokeWidth": 1.5}, "encoding": {"x": {"datum": -0.3, "scale": {"domain": [0, 20], "range": [247.6, 422.6], "nice": false, "zero": false}, "axis": null}, "x2": {"datum": 19.47}, "y": {"datum": 0.1, "scale": {"domain": [0, 10], "range": [331.5, 476.5], "nice": false, "zero": false}, "axis": null}, "y2": {"datum": 5.9}}},
   {"data": {"values": [{"col": -0.3, "c2": 1.65}, {"col": 19.47, "c2": 3.93}]}, "mark": {"type": "rule", "color": "#f08a24", "strokeWidth": 1.3}, "encoding": {"x": {"field": "col", "type": "quantitative", "scale": {"domain": [0, 20], "range": [247.6, 422.6], "nice": false, "zero": false}, "axis": null}, "x2": {"field": "c2"}, "y": {"datum": 5.9, "scale": {"domain": [0, 10], "range": [331.5, 476.5], "nice": false, "zero": false}, "axis": null}, "y2": {"datum": 7.2}}},
   {"data": {"values": [{"col": 0.6, "r": 1.37, "o": 1}, {"col": 4.27, "r": 1.37, "o": 2}, {"col": 4.27, "r": 2.52, "o": 3}, {"col": 11.5, "r": 2.52, "o": 4}, {"col": 11.5, "r": 3.55, "o": 5}, {"col": 14.2, "r": 3.55, "o": 6}, {"col": 14.2, "r": 4.54, "o": 7}, {"col": 16.65, "r": 4.54, "o": 8}]}, "mark": {"type": "line", "color": "#222", "strokeWidth": 1.4}, "encoding": {"x": {"field": "col", "type": "quantitative", "scale": {"domain": [0, 20], "range": [247.6, 422.6], "nice": false, "zero": false}, "axis": null}, "y": {"field": "r", "type": "quantitative", "scale": {"domain": [0, 10], "range": [331.5, 476.5], "nice": false, "zero": false}, "axis": null}, "order": {"field": "o", "type": "quantitative"}}},
   {"data": {"name": "dal"}, "transform": [{"flatten": ["c", "k"], "as": ["ch", "kk"]}, {"window": [{"op": "row_number", "as": "col"}], "groupby": ["r"]}],
    "mark": {"type": "text", "fontSize": 13, "font": "Liberation Serif", "fontWeight": "bold"},
    "encoding": {"x": {"field": "col", "type": "quantitative", "scale": {"domain": [0, 20], "range": [247.6, 422.6], "nice": false, "zero": false}, "axis": null}, "y": {"field": "r", "type": "quantitative", "scale": {"domain": [0, 10], "range": [331.5, 476.5], "nice": false, "zero": false}, "axis": null}, "text": {"field": "ch"}, "color": {"field": "kk", "type": "nominal", "scale": {"domain": ["o", "b", "r", "k"], "range": ["#ec7a3c", "#4a6db8", "#e8302a", "#111111"]}, "legend": null}}},
   {"data": {"name": "dal"}, "mark": {"type": "text", "align": "right", "fontSize": 9.5, "fontWeight": "bold", "color": "#111"}, "encoding": {"x": {"datum": -0.87, "scale": {"domain": [0, 20], "range": [247.6, 422.6], "nice": false, "zero": false}, "axis": null}, "y": {"field": "r", "type": "quantitative", "scale": {"domain": [0, 10], "range": [331.5, 476.5], "nice": false, "zero": false}, "axis": null}, "text": {"field": "lab"}}},
   {"data": {"values": [{"col": 2.8, "t": "199"}, {"col": 13.1, "t": "207"}]}, "mark": {"type": "rule", "color": "#111", "strokeWidth": 1.5}, "encoding": {"x": {"field": "col", "type": "quantitative", "scale": {"domain": [0, 20], "range": [247.6, 422.6], "nice": false, "zero": false}, "axis": null}, "y": {"datum": 5.95, "scale": {"domain": [0, 10], "range": [331.5, 476.5], "nice": false, "zero": false}, "axis": null}, "y2": {"datum": 6.35}}},
   {"data": {"values": [{"col": 2.8, "t": "199"}, {"col": 13.1, "t": "207"}]}, "mark": {"type": "text", "fontSize": 9.5, "fontWeight": "bold", "color": "#111"}, "encoding": {"x": {"field": "col", "type": "quantitative", "scale": {"domain": [0, 20], "range": [247.6, 422.6], "nice": false, "zero": false}, "axis": null}, "y": {"datum": 6.8, "scale": {"domain": [0, 10], "range": [331.5, 476.5], "nice": false, "zero": false}, "axis": null}, "text": {"field": "t"}}},
   {"data": {"values": [{"t": "Key-position"}]}, "mark": {"type": "text", "fontSize": 9.5, "fontWeight": "bold", "color": "#111"}, "encoding": {"x": {"datum": 5.4, "scale": {"domain": [0, 20], "range": [247.6, 422.6], "nice": false, "zero": false}, "axis": null}, "y": {"datum": -1.1, "scale": {"domain": [0, 10], "range": [331.5, 476.5], "nice": false, "zero": false}, "axis": null}, "text": {"field": "t"}}},
   {"data": {"values": [{}]}, "mark": {"type": "rule", "color": "#2aa84a", "strokeWidth": 2.5}, "encoding": {"x": {"datum": 4.03, "scale": {"domain": [0, 20], "range": [247.6, 422.6], "nice": false, "zero": false}, "axis": null}, "x2": {"datum": 3.2}, "y": {"datum": -0.59, "scale": {"domain": [0, 10], "range": [331.5, 476.5], "nice": false, "zero": false}, "axis": null}, "y2": {"datum": 0.3}}},
   {"data": {"values": [{}]}, "mark": {"type": "point", "shape": "triangle", "angle": 208, "filled": true, "size": 40, "color": "#2aa84a", "opacity": 1}, "encoding": {"x": {"datum": 3.05, "scale": {"domain": [0, 20], "range": [247.6, 422.6], "nice": false, "zero": false}, "axis": null}, "y": {"datum": 0.5, "scale": {"domain": [0, 10], "range": [331.5, 476.5], "nice": false, "zero": false}, "axis": null}}},
   {"data": {"values": [{"t": "D"}]}, "mark": {"type": "text", "fontSize": 18, "fontWeight": "bold", "color": "#111"}, "encoding": {"x": {"datum": -3.95, "scale": {"domain": [0, 20], "range": [247.6, 422.6], "nice": false, "zero": false}, "axis": null}, "y": {"datum": -0.45, "scale": {"domain": [0, 10], "range": [331.5, 476.5], "nice": false, "zero": false}, "axis": null}, "text": {"field": "t"}}}
  ]
 },
 {
  "layer": [
   {"data": {"name": "dbar"}, "mark": {"type": "rect", "stroke": "#6a6a6a", "strokeWidth": 0.8}, "encoding": {"x": {"field": "a", "type": "quantitative", "scale": {"domain": [1, 720], "range": [222, 398], "nice": false, "zero": false}, "axis": null}, "x2": {"field": "b"}, "y": {"field": "y0", "type": "quantitative", "scale": {"domain": [0, 10], "range": [331.5, 476.5], "nice": false, "zero": false}, "axis": null}, "y2": {"field": "y1"}, "color": {"field": "s", "type": "nominal", "scale": {"domain": ["body", "rep", "cbd"], "range": ["#dcdcdc", "#808080", "#4d80c4"]}, "legend": null}}},
   {"data": {"values": [{"a": 20, "y0": 8.0, "t": "BabA"}]}, "mark": {"type": "text", "align": "left", "fontSize": 9.5, "fontWeight": "bold", "color": "#222"}, "encoding": {"x": {"field": "a", "type": "quantitative", "scale": {"domain": [1, 720], "range": [222, 398], "nice": false, "zero": false}, "axis": null}, "y": {"field": "y0", "type": "quantitative", "scale": {"domain": [0, 10], "range": [331.5, 476.5], "nice": false, "zero": false}, "axis": null}, "text": {"field": "t"}}},
   {"data": {"values": [{"a": 570, "y0": 8.0, "t": "Repeat Sequence"}]}, "mark": {"type": "text", "fontSize": 9, "fontWeight": "bold", "color": "#ffffff"}, "encoding": {"x": {"field": "a", "type": "quantitative", "scale": {"domain": [1, 720], "range": [222, 398], "nice": false, "zero": false}, "axis": null}, "y": {"field": "y0", "type": "quantitative", "scale": {"domain": [0, 10], "range": [331.5, 476.5], "nice": false, "zero": false}, "axis": null}, "text": {"field": "t"}}},
   {"data": {"values": [{"a": 1}, {"a": 120}, {"a": 240}, {"a": 360}, {"a": 480}, {"a": 600}, {"a": 720}]}, "mark": {"type": "rule", "color": "#111", "strokeWidth": 1}, "encoding": {"x": {"field": "a", "type": "quantitative", "scale": {"domain": [1, 720], "range": [222, 398], "nice": false, "zero": false}, "axis": null}, "y": {"datum": 8.52, "scale": {"domain": [0, 10], "range": [331.5, 476.5], "nice": false, "zero": false}, "axis": null}, "y2": {"datum": 8.85}}},
   {"data": {"values": [{"a": 1, "t": "1"}, {"a": 240, "t": "240"}, {"a": 480, "t": "480"}, {"a": 720, "t": "720"}]}, "mark": {"type": "text", "fontSize": 9.5, "fontWeight": "bold", "color": "#111"}, "encoding": {"x": {"field": "a", "type": "quantitative", "scale": {"domain": [1, 720], "range": [222, 398], "nice": false, "zero": false}, "axis": null}, "y": {"datum": 9.35, "scale": {"domain": [0, 10], "range": [331.5, 476.5], "nice": false, "zero": false}, "axis": null}, "text": {"field": "t"}}},
   {"data": {"values": [{}]}, "mark": {"type": "rule", "color": "#e8202a", "strokeWidth": 2.5}, "encoding": {"x": {"datum": 209, "scale": {"domain": [1, 720], "range": [222, 398], "nice": false, "zero": false}, "axis": null}, "y": {"datum": 10.65, "scale": {"domain": [0, 10], "range": [331.5, 476.5], "nice": false, "zero": false}, "axis": null}, "y2": {"datum": 9.0}}},
   {"data": {"values": [{}]}, "mark": {"type": "point", "shape": "triangle-up", "filled": true, "size": 45, "color": "#e8202a", "opacity": 1}, "encoding": {"x": {"datum": 209, "scale": {"domain": [1, 720], "range": [222, 398], "nice": false, "zero": false}, "axis": null}, "y": {"datum": 8.85, "scale": {"domain": [0, 10], "range": [331.5, 476.5], "nice": false, "zero": false}, "axis": null}}},
   {"data": {"values": [{"t": "CBD-domain"}]}, "mark": {"type": "text", "fontSize": 9.5, "fontWeight": "bold", "color": "#111"}, "encoding": {"x": {"datum": 190, "scale": {"domain": [1, 720], "range": [222, 398], "nice": false, "zero": false}, "axis": null}, "y": {"datum": 11.1, "scale": {"domain": [0, 10], "range": [331.5, 476.5], "nice": false, "zero": false}, "axis": null}, "text": {"field": "t"}}}
  ]
 },
 {
  "layer": [
   {"data": {"values": [{}]}, "mark": {"type": "rect", "filled": false, "color": "#777", "strokeWidth": 1}, "encoding": {"x": {"datum": 2, "scale": {"domain": [2, 6], "range": [444, 596], "nice": false, "zero": false}, "axis": null}, "x2": {"datum": 6}, "y": {"datum": 0, "scale": {"domain": [0, 110], "range": [454, 343], "nice": false, "zero": false}, "axis": null}, "y2": {"datum": 110}}},
   {"data": {"name": "ticks26"}, "mark": {"type": "rule", "color": "#222"}, "encoding": {"x": {"field": "v", "type": "quantitative", "scale": {"domain": [2, 6], "range": [444, 596], "nice": false, "zero": false}, "axis": null}, "y": {"datum": 0, "scale": {"domain": [0, 110], "range": [454, 343], "nice": false, "zero": false}, "axis": null}, "y2": {"datum": -4}}},
   {"data": {"name": "ticks26"}, "mark": {"type": "text", "baseline": "top", "dy": 6, "fontSize": 10, "fontWeight": "bold", "color": "#111"}, "encoding": {"x": {"field": "v", "type": "quantitative", "scale": {"domain": [2, 6], "range": [444, 596], "nice": false, "zero": false}, "axis": null}, "y": {"datum": 0, "scale": {"domain": [0, 110], "range": [454, 343], "nice": false, "zero": false}, "axis": null}, "text": {"field": "t"}}},
   {"data": {"name": "ticks100"}, "mark": {"type": "rule", "color": "#222"}, "encoding": {"y": {"field": "v", "type": "quantitative", "scale": {"domain": [0, 110], "range": [454, 343], "nice": false, "zero": false}, "axis": null}, "x": {"datum": 2, "scale": {"domain": [2, 6], "range": [444, 596], "nice": false, "zero": false}, "axis": null}, "x2": {"datum": 1.895}}},
   {"data": {"name": "ticks100"}, "mark": {"type": "text", "align": "right", "dx": -6, "fontSize": 10, "fontWeight": "bold", "color": "#111"}, "encoding": {"y": {"field": "v", "type": "quantitative", "scale": {"domain": [0, 110], "range": [454, 343], "nice": false, "zero": false}, "axis": null}, "x": {"datum": 2, "scale": {"domain": [2, 6], "range": [444, 596], "nice": false, "zero": false}, "axis": null}, "text": {"field": "t"}}},
   {"data": {"values": [{"t": "pH"}]}, "mark": {"type": "text", "baseline": "top", "dy": 19, "fontSize": 10, "fontWeight": "bold", "color": "#111"}, "encoding": {"x": {"datum": 4, "scale": {"domain": [2, 6], "range": [444, 596], "nice": false, "zero": false}, "axis": null}, "y": {"datum": 0, "scale": {"domain": [0, 110], "range": [454, 343], "nice": false, "zero": false}, "axis": null}, "text": {"field": "t"}}},
   {"data": {"values": [{"t": "Relative Leb binding (%)"}]}, "mark": {"type": "text", "angle": 270, "fontSize": 10, "fontWeight": "bold", "color": "#111"}, "encoding": {"x": {"datum": 1.316, "scale": {"domain": [2, 6], "range": [444, 596], "nice": false, "zero": false}, "axis": null}, "y": {"datum": 52, "scale": {"domain": [0, 110], "range": [454, 343], "nice": false, "zero": false}, "axis": null}, "text": {"field": "t"}}},
   {"data": {"values": [{}]}, "mark": {"type": "rule", "color": "#2b3a9c", "strokeWidth": 1.2, "strokeDash": [9, 5]}, "encoding": {"x": {"datum": 2, "scale": {"domain": [2, 6], "range": [444, 596], "nice": false, "zero": false}, "axis": null}, "x2": {"datum": 5.1}, "y": {"datum": 50, "scale": {"domain": [0, 110], "range": [454, 343], "nice": false, "zero": false}, "axis": null}}},
   {"data": {"name": "e"}, "transform": [{"filter": "datum.e > 0"}], "mark": {"type": "errorbar", "ticks": true, "size": 4, "color": "#555", "thickness": 0.8}, "encoding": {"x": {"field": "x", "type": "quantitative", "scale": {"domain": [2, 6], "range": [444, 596], "nice": false, "zero": false}, "axis": null}, "y": {"field": "y", "type": "quantitative", "scale": {"domain": [0, 110], "range": [454, 343], "nice": false, "zero": false}, "axis": null}, "yError": {"field": "e"}}},
   {"data": {"name": "e"}, "mark": {"type": "line", "strokeWidth": 1.2}, "encoding": {"x": {"field": "x", "type": "quantitative", "scale": {"domain": [2, 6], "range": [444, 596], "nice": false, "zero": false}, "axis": null}, "y": {"field": "y", "type": "quantitative", "scale": {"domain": [0, 110], "range": [454, 343], "nice": false, "zero": false}, "axis": null}, "color": {"field": "s", "type": "nominal", "scale": {"domain": ["I9-SV", "I18-SV", "M1", "M2", "M3"], "range": ["#3cb44b", "#e8302a", "#f28a2e", "#f28a2e", "#36449e"]}, "legend": null}}},
   {"data": {"name": "e"}, "mark": {"type": "point", "filled": true, "size": 10, "opacity": 1}, "encoding": {"x": {"field": "x", "type": "quantitative", "scale": {"domain": [2, 6], "range": [444, 596], "nice": false, "zero": false}, "axis": null}, "y": {"field": "y", "type": "quantitative", "scale": {"domain": [0, 110], "range": [454, 343], "nice": false, "zero": false}, "axis": null}, "color": {"field": "s", "type": "nominal", "scale": {"domain": ["I9-SV", "I18-SV", "M1", "M2", "M3"], "range": ["#3cb44b", "#e8302a", "#f28a2e", "#f28a2e", "#36449e"]}, "legend": null}, "shape": {"field": "s", "type": "nominal", "scale": {"domain": ["I9-SV", "I18-SV", "M1", "M2", "M3"], "range": ["square", "square", "cross", "square", "square"]}, "legend": null}}},
   {"data": {"values": [{}]}, "mark": {"type": "rule", "color": "#e8302a", "strokeWidth": 2.5}, "encoding": {"x": {"datum": 3.95, "scale": {"domain": [2, 6], "range": [444, 596], "nice": false, "zero": false}, "axis": null}, "x2": {"datum": 3.5}, "y": {"datum": 37, "scale": {"domain": [0, 110], "range": [454, 343], "nice": false, "zero": false}, "axis": null}}},
   {"data": {"values": [{}]}, "mark": {"type": "point", "shape": "triangle-left", "filled": true, "size": 40, "color": "#e8302a", "opacity": 1}, "encoding": {"x": {"datum": 3.45, "scale": {"domain": [2, 6], "range": [444, 596], "nice": false, "zero": false}, "axis": null}, "y": {"datum": 37, "scale": {"domain": [0, 110], "range": [454, 343], "nice": false, "zero": false}, "axis": null}}},
   {"data": {"values": [{"s": "I9-SV", "y": 101, "x": 2.13, "x2": 2.42, "xt": 2.5}, {"s": "I18-SV", "y": 80, "x": 2.13, "x2": 2.42, "xt": 2.5}, {"s": "M1", "y": 58, "x": 5.0, "x2": 5.26, "xt": 5.37}, {"s": "M2", "y": 37, "x": 5.0, "x2": 5.26, "xt": 5.37}, {"s": "M3", "y": 17, "x": 5.0, "x2": 5.26, "xt": 5.37}]},
    "layer": [
     {"mark": {"type": "rule", "strokeWidth": 3}, "encoding": {"x": {"field": "x", "type": "quantitative", "scale": {"domain": [2, 6], "range": [444, 596], "nice": false, "zero": false}, "axis": null}, "x2": {"field": "x2"}, "y": {"field": "y", "type": "quantitative", "scale": {"domain": [0, 110], "range": [454, 343], "nice": false, "zero": false}, "axis": null}, "color": {"field": "s", "type": "nominal", "scale": {"domain": ["I9-SV", "I18-SV", "M1", "M2", "M3"], "range": ["#3cb44b", "#e8302a", "#f28a2e", "#f28a2e", "#36449e"]}, "legend": null}}},
     {"transform": [{"filter": "datum.s == 'M1' || datum.s == 'M2'"}], "mark": {"type": "point", "filled": true, "size": 45, "opacity": 1}, "encoding": {"x": {"datum": 5.13, "scale": {"domain": [2, 6], "range": [444, 596], "nice": false, "zero": false}, "axis": null}, "y": {"field": "y", "type": "quantitative", "scale": {"domain": [0, 110], "range": [454, 343], "nice": false, "zero": false}, "axis": null}, "color": {"field": "s", "type": "nominal", "scale": {"domain": ["I9-SV", "I18-SV", "M1", "M2", "M3"], "range": ["#3cb44b", "#e8302a", "#f28a2e", "#f28a2e", "#36449e"]}, "legend": null}, "shape": {"field": "s", "type": "nominal", "scale": {"domain": ["I9-SV", "I18-SV", "M1", "M2", "M3"], "range": ["square", "square", "cross", "square", "square"]}, "legend": null}}},
     {"mark": {"type": "text", "align": "left", "fontSize": 9.5, "fontWeight": "bold", "color": "#222"}, "encoding": {"x": {"field": "xt", "type": "quantitative", "scale": {"domain": [2, 6], "range": [444, 596], "nice": false, "zero": false}, "axis": null}, "y": {"field": "y", "type": "quantitative", "scale": {"domain": [0, 110], "range": [454, 343], "nice": false, "zero": false}, "axis": null}, "text": {"field": "s"}}}
    ]},
   {"data": {"values": [{"t": "E", "x": 1.29, "y": 127.8}, {"t": "F", "x": 6.42, "y": 127.8}]}, "mark": {"type": "text", "fontSize": 18, "fontWeight": "bold", "color": "#111"}, "encoding": {"x": {"field": "x", "type": "quantitative", "scale": {"domain": [2, 6], "range": [444, 596], "nice": false, "zero": false}, "axis": null}, "y": {"field": "y", "type": "quantitative", "scale": {"domain": [0, 110], "range": [454, 343], "nice": false, "zero": false}, "axis": null}, "text": {"field": "t"}}}
  ]
 },
 {
  "layer": [
   {"data": {"values": [{"x": 2, "x2": 6, "y": 0, "y2": 0}, {"x": 2, "x2": 2, "y": 0, "y2": 105}]}, "mark": {"type": "rule", "color": "#333", "strokeWidth": 1}, "encoding": {"x": {"field": "x", "type": "quantitative", "scale": {"domain": [2, 6], "range": [637, 791], "nice": false, "zero": false}, "axis": null}, "x2": {"field": "x2"}, "y": {"field": "y", "type": "quantitative", "scale": {"domain": [0, 105], "range": [455, 342], "nice": false, "zero": false}, "axis": null}, "y2": {"field": "y2"}}},
   {"data": {"name": "ticks26"}, "mark": {"type": "rule", "color": "#222"}, "encoding": {"x": {"field": "v", "type": "quantitative", "scale": {"domain": [2, 6], "range": [637, 791], "nice": false, "zero": false}, "axis": null}, "y": {"datum": 0, "scale": {"domain": [0, 105], "range": [455, 342], "nice": false, "zero": false}, "axis": null}, "y2": {"datum": -3.7}}},
   {"data": {"name": "ticks26"}, "mark": {"type": "text", "baseline": "top", "dy": 6, "fontSize": 10, "fontWeight": "bold", "color": "#111"}, "encoding": {"x": {"field": "v", "type": "quantitative", "scale": {"domain": [2, 6], "range": [637, 791], "nice": false, "zero": false}, "axis": null}, "y": {"datum": 0, "scale": {"domain": [0, 105], "range": [455, 342], "nice": false, "zero": false}, "axis": null}, "text": {"field": "t"}}},
   {"data": {"name": "ticks100"}, "mark": {"type": "rule", "color": "#222"}, "encoding": {"y": {"field": "v", "type": "quantitative", "scale": {"domain": [0, 105], "range": [455, 342], "nice": false, "zero": false}, "axis": null}, "x": {"datum": 2, "scale": {"domain": [2, 6], "range": [637, 791], "nice": false, "zero": false}, "axis": null}, "x2": {"datum": 1.896}}},
   {"data": {"name": "ticks100"}, "mark": {"type": "text", "align": "right", "dx": -6, "fontSize": 10, "fontWeight": "bold", "color": "#111"}, "encoding": {"y": {"field": "v", "type": "quantitative", "scale": {"domain": [0, 105], "range": [455, 342], "nice": false, "zero": false}, "axis": null}, "x": {"datum": 2, "scale": {"domain": [2, 6], "range": [637, 791], "nice": false, "zero": false}, "axis": null}, "text": {"field": "t"}}},
   {"data": {"values": [{"t": "pH"}]}, "mark": {"type": "text", "baseline": "top", "dy": 19, "fontSize": 10, "fontWeight": "bold", "color": "#111"}, "encoding": {"x": {"datum": 4, "scale": {"domain": [2, 6], "range": [637, 791], "nice": false, "zero": false}, "axis": null}, "y": {"datum": 0, "scale": {"domain": [0, 105], "range": [455, 342], "nice": false, "zero": false}, "axis": null}, "text": {"field": "t"}}},
   {"data": {"values": [{"t": "Relative Leb binding (%)"}]}, "mark": {"type": "text", "angle": 270, "fontSize": 10, "fontWeight": "bold", "color": "#111"}, "encoding": {"x": {"datum": 1.35, "scale": {"domain": [2, 6], "range": [637, 791], "nice": false, "zero": false}, "axis": null}, "y": {"datum": 50, "scale": {"domain": [0, 105], "range": [455, 342], "nice": false, "zero": false}, "axis": null}, "text": {"field": "t"}}},
   {"data": {"values": [{}]}, "mark": {"type": "rule", "color": "#2b3a9c", "strokeWidth": 1.2, "strokeDash": [9, 5]}, "encoding": {"x": {"datum": 2, "scale": {"domain": [2, 6], "range": [637, 791], "nice": false, "zero": false}, "axis": null}, "x2": {"datum": 4.1}, "y": {"datum": 50, "scale": {"domain": [0, 105], "range": [455, 342], "nice": false, "zero": false}, "axis": null}}},
   {"data": {"name": "f"}, "transform": [{"filter": "datum.e > 0"}], "mark": {"type": "errorbar", "ticks": true, "size": 4, "color": "#555", "thickness": 0.8}, "encoding": {"x": {"field": "x", "type": "quantitative", "scale": {"domain": [2, 6], "range": [637, 791], "nice": false, "zero": false}, "axis": null}, "y": {"field": "y", "type": "quantitative", "scale": {"domain": [0, 105], "range": [455, 342], "nice": false, "zero": false}, "axis": null}, "yError": {"field": "e"}}},
   {"data": {"name": "f"}, "mark": {"type": "line", "strokeWidth": 1.2, "point": {"filled": true, "size": 8, "shape": "square"}}, "encoding": {"x": {"field": "x", "type": "quantitative", "scale": {"domain": [2, 6], "range": [637, 791], "nice": false, "zero": false}, "axis": null}, "y": {"field": "y", "type": "quantitative", "scale": {"domain": [0, 105], "range": [455, 342], "nice": false, "zero": false}, "axis": null}, "color": {"field": "s", "type": "nominal", "scale": {"domain": ["I18-SV", "I18-SV-ΔKQ"], "range": ["#e8302a", "#3cb44b"]}, "legend": null}}},
   {"data": {"values": [{"s": "I18-SV", "y": 33.5, "x": 3.97, "x2": 4.2, "xt": 4.29}, {"s": "I18-SV-ΔKQ", "y": 20.4, "x": 3.97, "x2": 4.2, "xt": 4.29}]},
    "layer": [
     {"mark": {"type": "rule", "strokeWidth": 3}, "encoding": {"x": {"field": "x", "type": "quantitative", "scale": {"domain": [2, 6], "range": [637, 791], "nice": false, "zero": false}, "axis": null}, "x2": {"field": "x2"}, "y": {"field": "y", "type": "quantitative", "scale": {"domain": [0, 105], "range": [455, 342], "nice": false, "zero": false}, "axis": null}, "color": {"field": "s", "type": "nominal", "scale": {"domain": ["I18-SV", "I18-SV-ΔKQ"], "range": ["#e8302a", "#3cb44b"]}, "legend": null}}},
     {"mark": {"type": "text", "align": "left", "fontSize": 9.5, "fontWeight": "bold", "color": "#222"}, "encoding": {"x": {"field": "xt", "type": "quantitative", "scale": {"domain": [2, 6], "range": [637, 791], "nice": false, "zero": false}, "axis": null}, "y": {"field": "y", "type": "quantitative", "scale": {"domain": [0, 105], "range": [455, 342], "nice": false, "zero": false}, "axis": null}, "text": {"field": "s"}}}
    ]}
  ]
 },
 {
  "layer": [
   {"data": {"values": [{}]}, "mark": {"type": "rect", "filled": false, "color": "#8c8c8c", "strokeWidth": 1}, "encoding": {"x": {"datum": 2, "scale": {"domain": [2, 6], "range": [237, 394], "nice": false, "zero": false}, "axis": null}, "x2": {"datum": 6}, "y": {"datum": 0, "scale": {"domain": [0, 106], "range": [627, 508], "nice": false, "zero": false}, "axis": null}, "y2": {"datum": 106}}},
   {"data": {"name": "ticks26"}, "mark": {"type": "rule", "color": "#222"}, "encoding": {"x": {"field": "v", "type": "quantitative", "scale": {"domain": [2, 6], "range": [237, 394], "nice": false, "zero": false}, "axis": null}, "y": {"datum": 0, "scale": {"domain": [0, 106], "range": [627, 508], "nice": false, "zero": false}, "axis": null}, "y2": {"datum": -3.6}}},
   {"data": {"name": "ticks26"}, "mark": {"type": "text", "baseline": "top", "dy": 6, "fontSize": 10, "fontWeight": "bold", "color": "#111"}, "encoding": {"x": {"field": "v", "type": "quantitative", "scale": {"domain": [2, 6], "range": [237, 394], "nice": false, "zero": false}, "axis": null}, "y": {"datum": 0, "scale": {"domain": [0, 106], "range": [627, 508], "nice": false, "zero": false}, "axis": null}, "text": {"field": "t"}}},
   {"data": {"name": "ticks100"}, "mark": {"type": "rule", "color": "#222"}, "encoding": {"y": {"field": "v", "type": "quantitative", "scale": {"domain": [0, 106], "range": [627, 508], "nice": false, "zero": false}, "axis": null}, "x": {"datum": 2, "scale": {"domain": [2, 6], "range": [237, 394], "nice": false, "zero": false}, "axis": null}, "x2": {"datum": 1.898}}},
   {"data": {"name": "ticks100"}, "mark": {"type": "text", "align": "right", "dx": -6, "fontSize": 10, "fontWeight": "bold", "color": "#111"}, "encoding": {"y": {"field": "v", "type": "quantitative", "scale": {"domain": [0, 106], "range": [627, 508], "nice": false, "zero": false}, "axis": null}, "x": {"datum": 2, "scale": {"domain": [2, 6], "range": [237, 394], "nice": false, "zero": false}, "axis": null}, "text": {"field": "t"}}},
   {"data": {"values": [{"t": "pH"}]}, "mark": {"type": "text", "baseline": "top", "dy": 19, "fontSize": 10, "fontWeight": "bold", "color": "#111"}, "encoding": {"x": {"datum": 4, "scale": {"domain": [2, 6], "range": [237, 394], "nice": false, "zero": false}, "axis": null}, "y": {"datum": 0, "scale": {"domain": [0, 106], "range": [627, 508], "nice": false, "zero": false}, "axis": null}, "text": {"field": "t"}}},
   {"data": {"values": [{"t": "Relative binding (%)"}]}, "mark": {"type": "text", "angle": 270, "fontSize": 10, "fontWeight": "bold", "color": "#111"}, "encoding": {"x": {"datum": 1.31, "scale": {"domain": [2, 6], "range": [237, 394], "nice": false, "zero": false}, "axis": null}, "y": {"datum": 52, "scale": {"domain": [0, 106], "range": [627, 508], "nice": false, "zero": false}, "axis": null}, "text": {"field": "t"}}},
   {"data": {"values": [{}]}, "mark": {"type": "rule", "color": "#2b3a9c", "strokeWidth": 1.2, "strokeDash": [9, 5]}, "encoding": {"x": {"datum": 2, "scale": {"domain": [2, 6], "range": [237, 394], "nice": false, "zero": false}, "axis": null}, "x2": {"datum": 5}, "y": {"datum": 50, "scale": {"domain": [0, 106], "range": [627, 508], "nice": false, "zero": false}, "axis": null}}},
   {"data": {"name": "g"}, "transform": [{"filter": "datum.e > 0"}], "mark": {"type": "errorbar", "ticks": true, "size": 4, "color": "#555", "thickness": 0.8}, "encoding": {"x": {"field": "x", "type": "quantitative", "scale": {"domain": [2, 6], "range": [237, 394], "nice": false, "zero": false}, "axis": null}, "y": {"field": "y", "type": "quantitative", "scale": {"domain": [0, 106], "range": [627, 508], "nice": false, "zero": false}, "axis": null}, "yError": {"field": "e"}}},
   {"data": {"name": "g"}, "mark": {"type": "line", "strokeWidth": 1.2, "point": {"filled": true, "size": 8, "shape": "square"}}, "encoding": {"x": {"field": "x", "type": "quantitative", "scale": {"domain": [2, 6], "range": [237, 394], "nice": false, "zero": false}, "axis": null}, "y": {"field": "y", "type": "quantitative", "scale": {"domain": [0, 106], "range": [627, 508], "nice": false, "zero": false}, "axis": null}, "color": {"field": "s", "type": "nominal", "scale": {"domain": ["I9-SV", "I9-SV-D198A"], "range": ["#e8302a", "#3cb44b"]}, "legend": null}}},
   {"data": {"values": [{"s": "I9-SV", "y": 94, "x": 2.2, "x2": 2.51, "xt": 2.6}, {"s": "I9-SV-D198A", "y": 75, "x": 2.2, "x2": 2.51, "xt": 2.6}]},
    "layer": [
     {"mark": {"type": "rule", "strokeWidth": 3}, "encoding": {"x": {"field": "x", "type": "quantitative", "scale": {"domain": [2, 6], "range": [237, 394], "nice": false, "zero": false}, "axis": null}, "x2": {"field": "x2"}, "y": {"field": "y", "type": "quantitative", "scale": {"domain": [0, 106], "range": [627, 508], "nice": false, "zero": false}, "axis": null}, "color": {"field": "s", "type": "nominal", "scale": {"domain": ["I9-SV", "I9-SV-D198A"], "range": ["#e8302a", "#3cb44b"]}, "legend": null}}},
     {"mark": {"type": "text", "align": "left", "fontSize": 9.5, "fontWeight": "bold", "color": "#222"}, "encoding": {"x": {"field": "xt", "type": "quantitative", "scale": {"domain": [2, 6], "range": [237, 394], "nice": false, "zero": false}, "axis": null}, "y": {"field": "y", "type": "quantitative", "scale": {"domain": [0, 106], "range": [627, 508], "nice": false, "zero": false}, "axis": null}, "text": {"field": "s"}}}
    ]},
   {"data": {"values": [{"t": "G", "x": 1.39, "y": 104.2}]}, "mark": {"type": "text", "fontSize": 18, "fontWeight": "bold", "color": "#111"}, "encoding": {"x": {"field": "x", "type": "quantitative", "scale": {"domain": [2, 6], "range": [237, 394], "nice": false, "zero": false}, "axis": null}, "y": {"field": "y", "type": "quantitative", "scale": {"domain": [0, 106], "range": [627, 508], "nice": false, "zero": false}, "axis": null}, "text": {"field": "t"}}}
  ]
 },
 {
  "layer": [
   {"data": {"values": [{}]}, "mark": {"type": "rect", "filled": false, "color": "#444", "strokeWidth": 1}, "encoding": {"x": {"datum": 3, "scale": {"domain": [3, 7.5], "range": [440, 578], "nice": false, "zero": false}, "axis": null}, "x2": {"datum": 7.5}, "y": {"datum": 0, "scale": {"domain": [0, 55], "range": [627, 530], "nice": false, "zero": false}, "axis": null}, "y2": {"datum": 55}}},
   {"data": {"name": "ticks37"}, "mark": {"type": "rule", "color": "#222"}, "encoding": {"x": {"field": "v", "type": "quantitative", "scale": {"domain": [3, 7.5], "range": [440, 578], "nice": false, "zero": false}, "axis": null}, "y": {"datum": 0, "scale": {"domain": [0, 55], "range": [627, 530], "nice": false, "zero": false}, "axis": null}, "y2": {"datum": -2.27}}},
   {"data": {"name": "ticks37"}, "mark": {"type": "text", "baseline": "top", "dy": 6, "fontSize": 10, "fontWeight": "bold", "color": "#111"}, "encoding": {"x": {"field": "v", "type": "quantitative", "scale": {"domain": [3, 7.5], "range": [440, 578], "nice": false, "zero": false}, "axis": null}, "y": {"datum": 0, "scale": {"domain": [0, 55], "range": [627, 530], "nice": false, "zero": false}, "axis": null}, "text": {"field": "t"}}},
   {"data": {"name": "ticks50"}, "mark": {"type": "rule", "color": "#222"}, "encoding": {"y": {"field": "v", "type": "quantitative", "scale": {"domain": [0, 55], "range": [627, 530], "nice": false, "zero": false}, "axis": null}, "x": {"datum": 3, "scale": {"domain": [3, 7.5], "range": [440, 578], "nice": false, "zero": false}, "axis": null}, "x2": {"datum": 2.87}}},
   {"data": {"name": "ticks50"}, "mark": {"type": "text", "align": "right", "dx": -6, "fontSize": 10, "fontWeight": "bold", "color": "#111"}, "encoding": {"y": {"field": "v", "type": "quantitative", "scale": {"domain": [0, 55], "range": [627, 530], "nice": false, "zero": false}, "axis": null}, "x": {"datum": 3, "scale": {"domain": [3, 7.5], "range": [440, 578], "nice": false, "zero": false}, "axis": null}, "text": {"field": "t"}}},
   {"data": {"values": [{"t": "pH"}]}, "mark": {"type": "text", "baseline": "top", "dy": 19, "fontSize": 10, "fontWeight": "bold", "color": "#111"}, "encoding": {"x": {"datum": 5.1, "scale": {"domain": [3, 7.5], "range": [440, 578], "nice": false, "zero": false}, "axis": null}, "y": {"datum": 0, "scale": {"domain": [0, 55], "range": [627, 530], "nice": false, "zero": false}, "axis": null}, "text": {"field": "t"}}},
   {"data": {"values": [{"t": "Bond strength [pN]"}]}, "mark": {"type": "text", "angle": 270, "fontSize": 10, "fontWeight": "bold", "color": "#111"}, "encoding": {"x": {"datum": 2.22, "scale": {"domain": [3, 7.5], "range": [440, 578], "nice": false, "zero": false}, "axis": null}, "y": {"datum": 27, "scale": {"domain": [0, 55], "range": [627, 530], "nice": false, "zero": false}, "axis": null}, "text": {"field": "t"}}},
   {"data": {"name": "h"}, "mark": {"type": "errorbar", "ticks": true, "size": 4, "color": "#222", "thickness": 1}, "encoding": {"x": {"field": "x", "type": "quantitative", "scale": {"domain": [3, 7.5], "range": [440, 578], "nice": false, "zero": false}, "axis": null}, "y": {"field": "y", "type": "quantitative", "scale": {"domain": [0, 55], "range": [627, 530], "nice": false, "zero": false}, "axis": null}, "yError": {"field": "e"}}},
   {"data": {"name": "h"}, "mark": {"type": "line", "color": "#111", "strokeWidth": 1}, "encoding": {"x": {"field": "x", "type": "quantitative", "scale": {"domain": [3, 7.5], "range": [440, 578], "nice": false, "zero": false}, "axis": null}, "y": {"field": "y", "type": "quantitative", "scale": {"domain": [0, 55], "range": [627, 530], "nice": false, "zero": false}, "axis": null}, "detail": {"field": "s"}}},
   {"data": {"name": "h"}, "mark": {"type": "circle", "color": "#111", "size": 16, "opacity": 1}, "encoding": {"x": {"field": "x", "type": "quantitative", "scale": {"domain": [3, 7.5], "range": [440, 578], "nice": false, "zero": false}, "axis": null}, "y": {"field": "y", "type": "quantitative", "scale": {"domain": [0, 55], "range": [627, 530], "nice": false, "zero": false}, "axis": null}}},
   {"data": {"values": [{"t": "2700", "y": 51, "x": 7.96}, {"t": "480", "y": 40.6, "x": 7.96}, {"t": "68", "y": 34.3, "x": 7.96}, {"t": "6.8", "y": 21, "x": 7.96}]}, "mark": {"type": "text", "align": "left", "fontSize": 9.5, "fontWeight": "bold", "color": "#111"}, "encoding": {"x": {"field": "x", "type": "quantitative", "scale": {"domain": [3, 7.5], "range": [440, 578], "nice": false, "zero": false}, "axis": null}, "y": {"field": "y", "type": "quantitative", "scale": {"domain": [0, 55], "range": [627, 530], "nice": false, "zero": false}, "axis": null}, "text": {"field": "t"}}},
   {"data": {"values": [{"t": "Loading rate [pN/s]", "x": 7.2, "y": 63.4}]}, "mark": {"type": "text", "fontSize": 9.5, "fontWeight": "bold", "color": "#111"}, "encoding": {"x": {"field": "x", "type": "quantitative", "scale": {"domain": [3, 7.5], "range": [440, 578], "nice": false, "zero": false}, "axis": null}, "y": {"field": "y", "type": "quantitative", "scale": {"domain": [0, 55], "range": [627, 530], "nice": false, "zero": false}, "axis": null}, "text": {"field": "t"}}},
   {"data": {"values": [{"t": "H", "x": 2.18, "y": 66.9}]}, "mark": {"type": "text", "fontSize": 18, "fontWeight": "bold", "color": "#111"}, "encoding": {"x": {"field": "x", "type": "quantitative", "scale": {"domain": [3, 7.5], "range": [440, 578], "nice": false, "zero": false}, "axis": null}, "y": {"field": "y", "type": "quantitative", "scale": {"domain": [0, 55], "range": [627, 530], "nice": false, "zero": false}, "axis": null}, "text": {"field": "t"}}}
  ]
 },
 {
  "layer": [
   {"data": {"values": [{}]}, "mark": {"type": "rect", "filled": false, "color": "#444", "strokeWidth": 1}, "encoding": {"x": {"datum": 3, "scale": {"domain": [3, 7.5], "range": [668, 788], "nice": false, "zero": false}, "axis": null}, "x2": {"datum": 7.5}, "y": {"datum": 0.001, "scale": {"type": "log", "domain": [0.001, 10], "range": [628, 524], "nice": false}, "axis": null}, "y2": {"datum": 10}}},
   {"data": {"name": "ticks37"}, "mark": {"type": "rule", "color": "#222"}, "encoding": {"x": {"field": "v", "type": "quantitative", "scale": {"domain": [3, 7.5], "range": [668, 788], "nice": false, "zero": false}, "axis": null}, "y": {"datum": 0.001, "scale": {"type": "log", "domain": [0.001, 10], "range": [628, 524], "nice": false}, "axis": null}, "y2": {"datum": 0.0007}}},
   {"data": {"name": "ticks37"}, "mark": {"type": "text", "baseline": "top", "dy": 6, "fontSize": 10, "fontWeight": "bold", "color": "#111"}, "encoding": {"x": {"field": "v", "type": "quantitative", "scale": {"domain": [3, 7.5], "range": [668, 788], "nice": false, "zero": false}, "axis": null}, "y": {"datum": 0.001, "scale": {"type": "log", "domain": [0.001, 10], "range": [628, 524], "nice": false}, "axis": null}, "text": {"field": "t"}}},
   {"data": {"name": "tickslog"}, "mark": {"type": "rule", "color": "#222"}, "encoding": {"y": {"field": "v", "type": "quantitative", "scale": {"type": "log", "domain": [0.001, 10], "range": [628, 524], "nice": false}, "axis": null}, "x": {"datum": 3, "scale": {"domain": [3, 7.5], "range": [668, 788], "nice": false, "zero": false}, "axis": null}, "x2": {"datum": 2.85}}},
   {"data": {"name": "tickslog"}, "mark": {"type": "text", "align": "right", "dx": -6, "fontSize": 10, "fontWeight": "bold", "color": "#111"}, "encoding": {"y": {"field": "v", "type": "quantitative", "scale": {"type": "log", "domain": [0.001, 10], "range": [628, 524], "nice": false}, "axis": null}, "x": {"datum": 3, "scale": {"domain": [3, 7.5], "range": [668, 788], "nice": false, "zero": false}, "axis": null}, "text": {"field": "t"}}},
   {"data": {"values": [{"t": "pH"}]}, "mark": {"type": "text", "baseline": "top", "dy": 19, "fontSize": 10, "fontWeight": "bold", "color": "#111"}, "encoding": {"x": {"datum": 5.25, "scale": {"domain": [3, 7.5], "range": [668, 788], "nice": false, "zero": false}, "axis": null}, "y": {"datum": 0.001, "scale": {"type": "log", "domain": [0.001, 10], "range": [628, 524], "nice": false}, "axis": null}, "text": {"field": "t"}}},
   {"data": {"values": [{"t": "Thermal off-rate [s⁻¹]"}]}, "mark": {"type": "text", "angle": 270, "fontSize": 10, "fontWeight": "bold", "color": "#111"}, "encoding": {"x": {"datum": 1.69, "scale": {"domain": [3, 7.5], "range": [668, 788], "nice": false, "zero": false}, "axis": null}, "y": {"datum": 0.1, "scale": {"type": "log", "domain": [0.001, 10], "range": [628, 524], "nice": false}, "axis": null}, "text": {"field": "t"}}},
   {"data": {"name": "i"}, "mark": {"type": "rule", "color": "#222", "strokeWidth": 1}, "encoding": {"x": {"field": "x", "type": "quantitative", "scale": {"domain": [3, 7.5], "range": [668, 788], "nice": false, "zero": false}, "axis": null}, "y": {"field": "lo", "type": "quantitative", "scale": {"type": "log", "domain": [0.001, 10], "range": [628, 524], "nice": false}, "axis": null}, "y2": {"field": "hi"}}},
   {"data": {"name": "i"}, "mark": {"type": "line", "color": "#111", "strokeWidth": 1}, "encoding": {"x": {"field": "x", "type": "quantitative", "scale": {"domain": [3, 7.5], "range": [668, 788], "nice": false, "zero": false}, "axis": null}, "y": {"field": "y", "type": "quantitative", "scale": {"type": "log", "domain": [0.001, 10], "range": [628, 524], "nice": false}, "axis": null}}},
   {"data": {"name": "i"}, "mark": {"type": "circle", "color": "#111", "size": 16, "opacity": 1}, "encoding": {"x": {"field": "x", "type": "quantitative", "scale": {"domain": [3, 7.5], "range": [668, 788], "nice": false, "zero": false}, "axis": null}, "y": {"field": "y", "type": "quantitative", "scale": {"type": "log", "domain": [0.001, 10], "range": [628, 524], "nice": false}, "axis": null}}},
   {"data": {"values": [{"t": "I", "x": 1.8, "y": 45}]}, "mark": {"type": "text", "fontSize": 18, "fontWeight": "bold", "color": "#111"}, "encoding": {"x": {"field": "x", "type": "quantitative", "scale": {"domain": [3, 7.5], "range": [668, 788], "nice": false, "zero": false}, "axis": null}, "y": {"field": "y", "type": "quantitative", "scale": {"type": "log", "domain": [0.001, 10], "range": [628, 524], "nice": false}, "axis": null}, "text": {"field": "t"}}}
  ]
 }
]
}
